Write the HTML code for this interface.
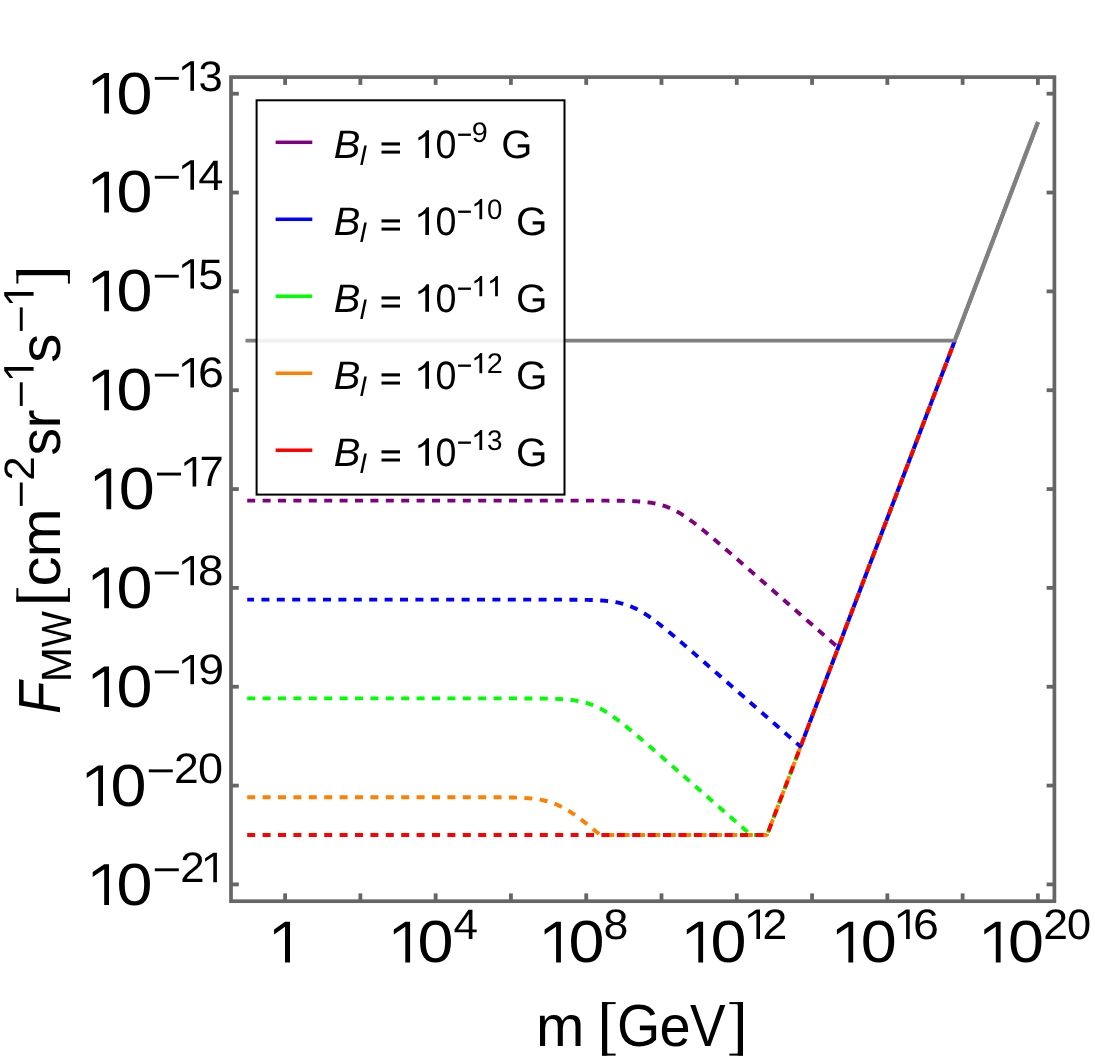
<!DOCTYPE html>
<html><head><meta charset="utf-8"><title>F_MW vs m</title>
<style>
html,body{margin:0;padding:0;background:#fff;}
svg{display:block;font-family:"Liberation Sans",sans-serif;-webkit-font-smoothing:antialiased;text-rendering:geometricPrecision;will-change:transform;}
</style></head>
<body>
<svg width="1095" height="1063" viewBox="0 0 1095 1063">
<rect x="0" y="0" width="1095" height="1063" fill="#ffffff"/>
<path d="M247.20,500.60 L248.20,500.60 L249.20,500.60 L250.20,500.60 L251.20,500.60 L252.20,500.60 L253.20,500.60 L254.20,500.60 L255.20,500.60 L256.20,500.60 L257.20,500.60 L258.20,500.60 L259.20,500.60 L260.20,500.60 L261.20,500.60 L262.20,500.60 L263.20,500.60 L264.20,500.60 L265.20,500.60 L266.20,500.60 L267.20,500.60 L268.20,500.60 L269.20,500.60 L270.20,500.60 L271.20,500.60 L272.20,500.60 L273.20,500.60 L274.20,500.60 L275.20,500.60 L276.20,500.60 L277.20,500.60 L278.20,500.60 L279.20,500.60 L280.20,500.60 L281.20,500.60 L282.20,500.60 L283.20,500.60 L284.20,500.60 L285.20,500.60 L286.20,500.60 L287.20,500.60 L288.20,500.60 L289.20,500.60 L290.20,500.60 L291.20,500.60 L292.20,500.60 L293.20,500.60 L294.20,500.60 L295.20,500.60 L296.20,500.60 L297.20,500.60 L298.20,500.60 L299.20,500.60 L300.20,500.60 L301.20,500.60 L302.20,500.60 L303.20,500.60 L304.20,500.60 L305.20,500.60 L306.20,500.60 L307.20,500.60 L308.20,500.60 L309.20,500.60 L310.20,500.60 L311.20,500.60 L312.20,500.60 L313.20,500.60 L314.20,500.60 L315.20,500.60 L316.20,500.60 L317.20,500.60 L318.20,500.60 L319.20,500.60 L320.20,500.60 L321.20,500.60 L322.20,500.60 L323.20,500.60 L324.20,500.60 L325.20,500.60 L326.20,500.60 L327.20,500.60 L328.20,500.60 L329.20,500.60 L330.20,500.60 L331.20,500.60 L332.20,500.60 L333.20,500.60 L334.20,500.60 L335.20,500.60 L336.20,500.60 L337.20,500.60 L338.20,500.60 L339.20,500.60 L340.20,500.60 L341.20,500.60 L342.20,500.60 L343.20,500.60 L344.20,500.60 L345.20,500.60 L346.20,500.60 L347.20,500.60 L348.20,500.60 L349.20,500.60 L350.20,500.60 L351.20,500.60 L352.20,500.60 L353.20,500.60 L354.20,500.60 L355.20,500.60 L356.20,500.60 L357.20,500.60 L358.20,500.60 L359.20,500.60 L360.20,500.60 L361.20,500.60 L362.20,500.60 L363.20,500.60 L364.20,500.60 L365.20,500.60 L366.20,500.60 L367.20,500.60 L368.20,500.60 L369.20,500.60 L370.20,500.60 L371.20,500.60 L372.20,500.60 L373.20,500.60 L374.20,500.60 L375.20,500.60 L376.20,500.60 L377.20,500.60 L378.20,500.60 L379.20,500.60 L380.20,500.60 L381.20,500.60 L382.20,500.60 L383.20,500.60 L384.20,500.60 L385.20,500.60 L386.20,500.60 L387.20,500.60 L388.20,500.60 L389.20,500.60 L390.20,500.60 L391.20,500.60 L392.20,500.60 L393.20,500.60 L394.20,500.60 L395.20,500.60 L396.20,500.60 L397.20,500.60 L398.20,500.60 L399.20,500.60 L400.20,500.60 L401.20,500.60 L402.20,500.60 L403.20,500.60 L404.20,500.60 L405.20,500.60 L406.20,500.60 L407.20,500.60 L408.20,500.60 L409.20,500.60 L410.20,500.60 L411.20,500.60 L412.20,500.60 L413.20,500.60 L414.20,500.60 L415.20,500.60 L416.20,500.60 L417.20,500.60 L418.20,500.60 L419.20,500.60 L420.20,500.60 L421.20,500.60 L422.20,500.60 L423.20,500.60 L424.20,500.60 L425.20,500.60 L426.20,500.60 L427.20,500.60 L428.20,500.60 L429.20,500.60 L430.20,500.60 L431.20,500.60 L432.20,500.60 L433.20,500.60 L434.20,500.60 L435.20,500.60 L436.20,500.60 L437.20,500.60 L438.20,500.60 L439.20,500.60 L440.20,500.60 L441.20,500.60 L442.20,500.60 L443.20,500.60 L444.20,500.60 L445.20,500.60 L446.20,500.60 L447.20,500.60 L448.20,500.60 L449.20,500.60 L450.20,500.60 L451.20,500.60 L452.20,500.60 L453.20,500.60 L454.20,500.60 L455.20,500.60 L456.20,500.60 L457.20,500.60 L458.20,500.60 L459.20,500.60 L460.20,500.60 L461.20,500.60 L462.20,500.60 L463.20,500.60 L464.20,500.60 L465.20,500.60 L466.20,500.60 L467.20,500.60 L468.20,500.60 L469.20,500.60 L470.20,500.60 L471.20,500.60 L472.20,500.60 L473.20,500.60 L474.20,500.60 L475.20,500.60 L476.20,500.60 L477.20,500.60 L478.20,500.60 L479.20,500.60 L480.20,500.60 L481.20,500.60 L482.20,500.60 L483.20,500.60 L484.20,500.60 L485.20,500.60 L486.20,500.60 L487.20,500.60 L488.20,500.60 L489.20,500.60 L490.20,500.60 L491.20,500.60 L492.20,500.60 L493.20,500.60 L494.20,500.60 L495.20,500.60 L496.20,500.60 L497.20,500.60 L498.20,500.60 L499.20,500.60 L500.20,500.60 L501.20,500.60 L502.20,500.60 L503.20,500.60 L504.20,500.60 L505.20,500.60 L506.20,500.60 L507.20,500.60 L508.20,500.60 L509.20,500.60 L510.20,500.60 L511.20,500.60 L512.20,500.60 L513.20,500.60 L514.20,500.60 L515.20,500.60 L516.20,500.60 L517.20,500.60 L518.20,500.60 L519.20,500.60 L520.20,500.60 L521.20,500.60 L522.20,500.60 L523.20,500.60 L524.20,500.60 L525.20,500.60 L526.20,500.60 L527.20,500.60 L528.20,500.60 L529.20,500.60 L530.20,500.60 L531.20,500.60 L532.20,500.60 L533.20,500.60 L534.20,500.60 L535.20,500.60 L536.20,500.60 L537.20,500.60 L538.20,500.60 L539.20,500.60 L540.20,500.60 L541.20,500.60 L542.20,500.60 L543.20,500.60 L544.20,500.60 L545.20,500.60 L546.20,500.60 L547.20,500.60 L548.20,500.60 L549.20,500.60 L550.20,500.60 L551.20,500.60 L552.20,500.60 L553.20,500.60 L554.20,500.60 L555.20,500.60 L556.20,500.60 L557.20,500.60 L558.20,500.60 L559.20,500.60 L560.20,500.60 L561.20,500.60 L562.20,500.60 L563.20,500.60 L564.20,500.60 L565.20,500.60 L566.20,500.60 L567.20,500.60 L568.20,500.60 L569.20,500.60 L570.20,500.60 L571.20,500.60 L572.20,500.60 L573.20,500.60 L574.20,500.61 L575.20,500.61 L576.20,500.61 L577.20,500.61 L578.20,500.61 L579.20,500.61 L580.20,500.61 L581.20,500.61 L582.20,500.61 L583.20,500.61 L584.20,500.61 L585.20,500.61 L586.20,500.61 L587.20,500.61 L588.20,500.62 L589.20,500.62 L590.20,500.62 L591.20,500.62 L592.20,500.62 L593.20,500.62 L594.20,500.63 L595.20,500.63 L596.20,500.63 L597.20,500.63 L598.20,500.64 L599.20,500.64 L600.20,500.64 L601.20,500.65 L602.20,500.65 L603.20,500.65 L604.20,500.66 L605.20,500.66 L606.20,500.67 L607.20,500.67 L608.20,500.68 L609.20,500.69 L610.20,500.69 L611.20,500.70 L612.20,500.71 L613.20,500.72 L614.20,500.73 L615.20,500.74 L616.20,500.75 L617.20,500.76 L618.20,500.77 L619.20,500.79 L620.20,500.80 L621.20,500.82 L622.20,500.84 L623.20,500.86 L624.20,500.88 L625.20,500.90 L626.20,500.93 L627.20,500.95 L628.20,500.98 L629.20,501.01 L630.20,501.04 L631.20,501.08 L632.20,501.12 L633.20,501.16 L634.20,501.21 L635.20,501.26 L636.20,501.31 L637.20,501.36 L638.20,501.43 L639.20,501.49 L640.20,501.56 L641.20,501.64 L642.20,501.72 L643.20,501.81 L644.20,501.90 L645.20,502.00 L646.20,502.11 L647.20,502.23 L648.20,502.35 L649.20,502.48 L650.20,502.63 L651.20,502.78 L652.20,502.94 L653.20,503.11 L654.20,503.30 L655.20,503.50 L656.20,503.70 L657.20,503.93 L658.20,504.16 L659.20,504.41 L660.20,504.67 L661.20,504.95 L662.20,505.25 L663.20,505.55 L664.20,505.88 L665.20,506.22 L666.20,506.58 L667.20,506.96 L668.20,507.35 L669.20,507.76 L670.20,508.19 L671.20,508.63 L672.20,509.09 L673.20,509.57 L674.20,510.07 L675.20,510.58 L676.20,511.11 L677.20,511.66 L678.20,512.22 L679.20,512.80 L680.20,513.39 L681.20,514.00 L682.20,514.63 L683.20,515.26 L684.20,515.91 L685.20,516.58 L686.20,517.26 L687.20,517.94 L688.20,518.64 L689.20,519.35 L690.20,520.08 L691.20,520.81 L692.20,521.55 L693.20,522.30 L694.20,523.05 L695.20,523.82 L696.20,524.59 L697.20,525.37 L698.20,526.16 L699.20,526.95 L700.20,527.75 L701.20,528.55 L702.20,529.36 L703.20,530.17 L704.20,530.99 L705.20,531.81 L706.20,532.64 L707.20,533.47 L708.20,534.30 L709.20,535.14 L710.20,535.98 L711.20,536.82 L712.20,537.66 L713.20,538.51 L714.20,539.36 L715.20,540.21 L716.20,541.06 L717.20,541.91 L718.20,542.77 L719.20,543.63 L720.20,544.48 L721.20,545.34 L722.20,546.20 L723.20,547.07 L724.20,547.93 L725.20,548.79 L726.20,549.66 L727.20,550.52 L728.20,551.39 L729.20,552.26 L730.20,553.12 L731.20,553.99 L732.20,554.86 L733.20,555.73 L734.20,556.60 L735.20,557.47 L736.20,558.34 L737.20,559.21 L738.20,560.08 L739.20,560.95 L740.20,561.83 L741.20,562.70 L742.20,563.57 L743.20,564.44 L744.20,565.32 L745.20,566.19 L746.20,567.06 L747.20,567.94 L748.20,568.81 L749.20,569.68 L750.20,570.56 L751.20,571.43 L752.20,572.30 L753.20,573.18 L754.20,574.05 L755.20,574.93 L756.20,575.80 L757.20,576.68 L758.20,577.55 L759.20,578.42 L760.20,579.30 L761.20,580.17 L762.20,581.05 L763.20,581.92 L764.20,582.80 L765.20,583.67 L766.20,584.55 L767.20,585.42 L768.20,586.30 L769.20,587.17 L770.20,588.05 L771.20,588.92 L772.20,589.80 L773.20,590.67 L774.20,591.55 L775.20,592.42 L776.20,593.30 L777.20,594.17 L778.20,595.05 L779.20,595.92 L780.20,596.80 L781.20,597.67 L782.20,598.55 L783.20,599.42 L784.20,600.30 L785.20,601.17 L786.20,602.05 L787.20,602.92 L788.20,603.80 L789.20,604.68 L790.20,605.55 L791.20,606.43 L792.20,607.30 L793.20,608.18 L794.20,609.05 L795.20,609.93 L796.20,610.80 L797.20,611.68 L798.20,612.55 L799.20,613.43 L800.20,614.30 L801.20,615.18 L802.20,616.05 L803.20,616.93 L804.20,617.80 L805.20,618.68 L806.20,619.55 L807.20,620.43 L808.20,621.31 L809.20,622.18 L810.20,623.06 L811.20,623.93 L812.20,624.81 L813.20,625.68 L814.20,626.56 L815.20,627.43 L816.20,628.31 L817.20,629.18 L818.20,630.06 L819.20,630.93 L820.20,631.81 L821.20,632.68 L822.20,633.56 L823.20,634.43 L824.20,635.31 L825.20,636.19 L826.20,637.06 L827.20,637.94 L828.20,638.81 L829.20,639.69 L830.20,640.56 L831.20,641.44 L832.20,642.31 L833.20,643.19 L834.20,644.06 L835.20,644.94 L836.20,645.81 L837.20,646.69 L838.20,647.56 L839.20,644.97 L840.20,642.33 L841.20,639.70 L842.20,637.07 L843.20,634.44 L844.20,631.81 L845.20,629.17 L846.20,626.54 L847.20,623.91 L848.20,621.28 L849.20,618.65 L850.20,616.01 L851.20,613.38 L852.20,610.75 L853.20,608.12 L854.20,605.48 L855.20,602.85 L856.20,600.22 L857.20,597.59 L858.20,594.96 L859.20,592.32 L860.20,589.69 L861.20,587.06 L862.20,584.43 L863.20,581.80 L864.20,579.16 L865.20,576.53 L866.20,573.90 L867.20,571.27 L868.20,568.64 L869.20,566.00 L870.20,563.37 L871.20,560.74 L872.20,558.11 L873.20,555.48 L874.20,552.84 L875.20,550.21 L876.20,547.58 L877.20,544.95 L878.20,542.32 L879.20,539.68 L880.20,537.05 L881.20,534.42 L882.20,531.79 L883.20,529.16 L884.20,526.52 L885.20,523.89 L886.20,521.26 L887.20,518.63 L888.20,515.99 L889.20,513.36 L890.20,510.73 L891.20,508.10 L892.20,505.47 L893.20,502.83 L894.20,500.20 L895.20,497.57 L896.20,494.94 L897.20,492.31 L898.20,489.67 L899.20,487.04 L900.20,484.41 L901.20,481.78 L902.20,479.15 L903.20,476.51 L904.20,473.88 L905.20,471.25 L906.20,468.62 L907.20,465.99 L908.20,463.35 L909.20,460.72 L910.20,458.09 L911.20,455.46 L912.20,452.83 L913.20,450.19 L914.20,447.56 L915.20,444.93 L916.20,442.30 L917.20,439.67 L918.20,437.03 L919.20,434.40 L920.20,431.77 L921.20,429.14 L922.20,426.51 L923.20,423.87 L924.20,421.24 L925.20,418.61 L926.20,415.98 L927.20,413.34 L928.20,410.71 L929.20,408.08 L930.20,405.45 L931.20,402.82 L932.20,400.18 L933.20,397.55 L934.20,394.92 L935.20,392.29 L936.20,389.66 L937.20,387.02 L938.20,384.39 L939.20,381.76 L940.20,379.13 L941.20,376.50 L942.20,373.86 L943.20,371.23 L944.20,368.60 L945.20,365.97 L946.20,363.34 L947.20,360.70 L948.20,358.07 L949.20,355.44 L950.20,352.81 L951.20,350.18 L952.20,347.54 L953.20,344.91 L954.20,342.28 L954.80,340.70" fill="none" stroke="#800080" stroke-width="3.9" stroke-dasharray="8 7.4" stroke-dashoffset="0" stroke-linejoin="round"/>
<path d="M247.20,698.40 L248.20,698.40 L249.20,698.40 L250.20,698.40 L251.20,698.40 L252.20,698.40 L253.20,698.40 L254.20,698.40 L255.20,698.40 L256.20,698.40 L257.20,698.40 L258.20,698.40 L259.20,698.40 L260.20,698.40 L261.20,698.40 L262.20,698.40 L263.20,698.40 L264.20,698.40 L265.20,698.40 L266.20,698.40 L267.20,698.40 L268.20,698.40 L269.20,698.40 L270.20,698.40 L271.20,698.40 L272.20,698.40 L273.20,698.40 L274.20,698.40 L275.20,698.40 L276.20,698.40 L277.20,698.40 L278.20,698.40 L279.20,698.40 L280.20,698.40 L281.20,698.40 L282.20,698.40 L283.20,698.40 L284.20,698.40 L285.20,698.40 L286.20,698.40 L287.20,698.40 L288.20,698.40 L289.20,698.40 L290.20,698.40 L291.20,698.40 L292.20,698.40 L293.20,698.40 L294.20,698.40 L295.20,698.40 L296.20,698.40 L297.20,698.40 L298.20,698.40 L299.20,698.40 L300.20,698.40 L301.20,698.40 L302.20,698.40 L303.20,698.40 L304.20,698.40 L305.20,698.40 L306.20,698.40 L307.20,698.40 L308.20,698.40 L309.20,698.40 L310.20,698.40 L311.20,698.40 L312.20,698.40 L313.20,698.40 L314.20,698.40 L315.20,698.40 L316.20,698.40 L317.20,698.40 L318.20,698.40 L319.20,698.40 L320.20,698.40 L321.20,698.40 L322.20,698.40 L323.20,698.40 L324.20,698.40 L325.20,698.40 L326.20,698.40 L327.20,698.40 L328.20,698.40 L329.20,698.40 L330.20,698.40 L331.20,698.40 L332.20,698.40 L333.20,698.40 L334.20,698.40 L335.20,698.40 L336.20,698.40 L337.20,698.40 L338.20,698.40 L339.20,698.40 L340.20,698.40 L341.20,698.40 L342.20,698.40 L343.20,698.40 L344.20,698.40 L345.20,698.40 L346.20,698.40 L347.20,698.40 L348.20,698.40 L349.20,698.40 L350.20,698.40 L351.20,698.40 L352.20,698.40 L353.20,698.40 L354.20,698.40 L355.20,698.40 L356.20,698.40 L357.20,698.40 L358.20,698.40 L359.20,698.40 L360.20,698.40 L361.20,698.40 L362.20,698.40 L363.20,698.40 L364.20,698.40 L365.20,698.40 L366.20,698.40 L367.20,698.40 L368.20,698.40 L369.20,698.40 L370.20,698.40 L371.20,698.40 L372.20,698.40 L373.20,698.40 L374.20,698.40 L375.20,698.40 L376.20,698.40 L377.20,698.40 L378.20,698.40 L379.20,698.40 L380.20,698.40 L381.20,698.40 L382.20,698.40 L383.20,698.40 L384.20,698.40 L385.20,698.40 L386.20,698.40 L387.20,698.40 L388.20,698.40 L389.20,698.40 L390.20,698.40 L391.20,698.40 L392.20,698.40 L393.20,698.40 L394.20,698.40 L395.20,698.40 L396.20,698.40 L397.20,698.40 L398.20,698.40 L399.20,698.40 L400.20,698.40 L401.20,698.40 L402.20,698.40 L403.20,698.40 L404.20,698.40 L405.20,698.40 L406.20,698.40 L407.20,698.40 L408.20,698.40 L409.20,698.40 L410.20,698.40 L411.20,698.40 L412.20,698.40 L413.20,698.40 L414.20,698.40 L415.20,698.40 L416.20,698.40 L417.20,698.40 L418.20,698.40 L419.20,698.40 L420.20,698.40 L421.20,698.40 L422.20,698.40 L423.20,698.40 L424.20,698.40 L425.20,698.40 L426.20,698.40 L427.20,698.40 L428.20,698.40 L429.20,698.40 L430.20,698.40 L431.20,698.40 L432.20,698.40 L433.20,698.40 L434.20,698.40 L435.20,698.40 L436.20,698.40 L437.20,698.40 L438.20,698.40 L439.20,698.40 L440.20,698.40 L441.20,698.40 L442.20,698.40 L443.20,698.40 L444.20,698.40 L445.20,698.40 L446.20,698.40 L447.20,698.40 L448.20,698.40 L449.20,698.40 L450.20,698.40 L451.20,698.40 L452.20,698.40 L453.20,698.40 L454.20,698.40 L455.20,698.40 L456.20,698.40 L457.20,698.40 L458.20,698.40 L459.20,698.40 L460.20,698.40 L461.20,698.40 L462.20,698.40 L463.20,698.40 L464.20,698.40 L465.20,698.40 L466.20,698.40 L467.20,698.40 L468.20,698.40 L469.20,698.40 L470.20,698.40 L471.20,698.40 L472.20,698.40 L473.20,698.40 L474.20,698.40 L475.20,698.40 L476.20,698.40 L477.20,698.40 L478.20,698.40 L479.20,698.40 L480.20,698.40 L481.20,698.40 L482.20,698.40 L483.20,698.40 L484.20,698.40 L485.20,698.40 L486.20,698.40 L487.20,698.40 L488.20,698.40 L489.20,698.40 L490.20,698.40 L491.20,698.40 L492.20,698.40 L493.20,698.40 L494.20,698.40 L495.20,698.40 L496.20,698.40 L497.20,698.40 L498.20,698.40 L499.20,698.41 L500.20,698.41 L501.20,698.41 L502.20,698.41 L503.20,698.41 L504.20,698.41 L505.20,698.41 L506.20,698.41 L507.20,698.41 L508.20,698.41 L509.20,698.41 L510.20,698.41 L511.20,698.41 L512.20,698.42 L513.20,698.42 L514.20,698.42 L515.20,698.42 L516.20,698.42 L517.20,698.42 L518.20,698.42 L519.20,698.43 L520.20,698.43 L521.20,698.43 L522.20,698.43 L523.20,698.44 L524.20,698.44 L525.20,698.44 L526.20,698.45 L527.20,698.45 L528.20,698.45 L529.20,698.46 L530.20,698.46 L531.20,698.47 L532.20,698.47 L533.20,698.48 L534.20,698.49 L535.20,698.49 L536.20,698.50 L537.20,698.51 L538.20,698.52 L539.20,698.53 L540.20,698.54 L541.20,698.55 L542.20,698.56 L543.20,698.58 L544.20,698.59 L545.20,698.61 L546.20,698.62 L547.20,698.64 L548.20,698.66 L549.20,698.68 L550.20,698.71 L551.20,698.73 L552.20,698.76 L553.20,698.79 L554.20,698.82 L555.20,698.86 L556.20,698.89 L557.20,698.93 L558.20,698.97 L559.20,699.02 L560.20,699.07 L561.20,699.12 L562.20,699.18 L563.20,699.24 L564.20,699.31 L565.20,699.38 L566.20,699.46 L567.20,699.54 L568.20,699.63 L569.20,699.73 L570.20,699.83 L571.20,699.94 L572.20,700.06 L573.20,700.19 L574.20,700.33 L575.20,700.47 L576.20,700.63 L577.20,700.79 L578.20,700.97 L579.20,701.16 L580.20,701.36 L581.20,701.57 L582.20,701.80 L583.20,702.03 L584.20,702.29 L585.20,702.56 L586.20,702.84 L587.20,703.14 L588.20,703.45 L589.20,703.78 L590.20,704.13 L591.20,704.49 L592.20,704.87 L593.20,705.27 L594.20,705.68 L595.20,706.12 L596.20,706.57 L597.20,707.03 L598.20,707.52 L599.20,708.02 L600.20,708.54 L601.20,709.07 L602.20,709.63 L603.20,710.19 L604.20,710.78 L605.20,711.37 L606.20,711.99 L607.20,712.62 L608.20,713.26 L609.20,713.91 L610.20,714.58 L611.20,715.26 L612.20,715.95 L613.20,716.66 L614.20,717.37 L615.20,718.09 L616.20,718.83 L617.20,719.57 L618.20,720.32 L619.20,721.08 L620.20,721.85 L621.20,722.62 L622.20,723.41 L623.20,724.19 L624.20,724.99 L625.20,725.79 L626.20,726.59 L627.20,727.40 L628.20,728.22 L629.20,729.04 L630.20,729.86 L631.20,730.69 L632.20,731.52 L633.20,732.35 L634.20,733.19 L635.20,734.03 L636.20,734.87 L637.20,735.72 L638.20,736.56 L639.20,737.41 L640.20,738.26 L641.20,739.12 L642.20,739.97 L643.20,740.83 L644.20,741.68 L645.20,742.54 L646.20,743.40 L647.20,744.26 L648.20,745.13 L649.20,745.99 L650.20,746.85 L651.20,747.72 L652.20,748.58 L653.20,749.45 L654.20,750.32 L655.20,751.19 L656.20,752.05 L657.20,752.92 L658.20,753.79 L659.20,754.66 L660.20,755.53 L661.20,756.40 L662.20,757.27 L663.20,758.14 L664.20,759.02 L665.20,759.89 L666.20,760.76 L667.20,761.63 L668.20,762.51 L669.20,763.38 L670.20,764.25 L671.20,765.12 L672.20,766.00 L673.20,766.87 L674.20,767.74 L675.20,768.62 L676.20,769.49 L677.20,770.37 L678.20,771.24 L679.20,772.11 L680.20,772.99 L681.20,773.86 L682.20,774.74 L683.20,775.61 L684.20,776.49 L685.20,777.36 L686.20,778.24 L687.20,779.11 L688.20,779.99 L689.20,780.86 L690.20,781.74 L691.20,782.61 L692.20,783.48 L693.20,784.36 L694.20,785.23 L695.20,786.11 L696.20,786.98 L697.20,787.86 L698.20,788.73 L699.20,789.61 L700.20,790.49 L701.20,791.36 L702.20,792.24 L703.20,793.11 L704.20,793.99 L705.20,794.86 L706.20,795.74 L707.20,796.61 L708.20,797.49 L709.20,798.36 L710.20,799.24 L711.20,800.11 L712.20,800.99 L713.20,801.86 L714.20,802.74 L715.20,803.61 L716.20,804.49 L717.20,805.36 L718.20,806.24 L719.20,807.11 L720.20,807.99 L721.20,808.86 L722.20,809.74 L723.20,810.62 L724.20,811.49 L725.20,812.37 L726.20,813.24 L727.20,814.12 L728.20,814.99 L729.20,815.87 L730.20,816.74 L731.20,817.62 L732.20,818.49 L733.20,819.37 L734.20,820.24 L735.20,821.12 L736.20,821.99 L737.20,822.87 L738.20,823.74 L739.20,824.62 L740.20,825.50 L741.20,826.37 L742.20,827.25 L743.20,828.12 L744.20,829.00 L745.20,829.87 L746.20,830.75 L747.20,831.62 L748.20,832.50 L749.20,833.37 L750.20,834.25 L751.20,835.00 L752.20,835.00 L753.20,835.00 L754.20,835.00 L755.20,835.00 L756.20,835.00 L757.20,835.00 L758.20,835.00 L759.20,835.00 L760.20,835.00 L761.20,835.00 L762.20,835.00 L763.20,835.00 L764.20,835.00 L765.20,835.00 L766.20,835.00 L767.20,834.47 L768.20,831.84 L769.20,829.21 L770.20,826.58 L771.20,823.95 L772.20,821.31 L773.20,818.68 L774.20,816.05 L775.20,813.42 L776.20,810.79 L777.20,808.15 L778.20,805.52 L779.20,802.89 L780.20,800.26 L781.20,797.62 L782.20,794.99 L783.20,792.36 L784.20,789.73 L785.20,787.10 L786.20,784.46 L787.20,781.83 L788.20,779.20 L789.20,776.57 L790.20,773.94 L791.20,771.30 L792.20,768.67 L793.20,766.04 L794.20,763.41 L795.20,760.78 L796.20,758.14 L797.20,755.51 L798.20,752.88 L799.20,750.25 L800.20,747.62 L801.20,744.98 L802.20,742.35 L803.20,739.72 L804.20,737.09 L805.20,734.46 L806.20,731.82 L807.20,729.19 L808.20,726.56 L809.20,723.93 L810.20,721.30 L811.20,718.66 L812.20,716.03 L813.20,713.40 L814.20,710.77 L815.20,708.13 L816.20,705.50 L817.20,702.87 L818.20,700.24 L819.20,697.61 L820.20,694.97 L821.20,692.34 L822.20,689.71 L823.20,687.08 L824.20,684.45 L825.20,681.81 L826.20,679.18 L827.20,676.55 L828.20,673.92 L829.20,671.29 L830.20,668.65 L831.20,666.02 L832.20,663.39 L833.20,660.76 L834.20,658.13 L835.20,655.49 L836.20,652.86 L837.20,650.23 L838.20,647.60 L839.20,644.97 L840.20,642.33 L841.20,639.70 L842.20,637.07 L843.20,634.44 L844.20,631.81 L845.20,629.17 L846.20,626.54 L847.20,623.91 L848.20,621.28 L849.20,618.65 L850.20,616.01 L851.20,613.38 L852.20,610.75 L853.20,608.12 L854.20,605.48 L855.20,602.85 L856.20,600.22 L857.20,597.59 L858.20,594.96 L859.20,592.32 L860.20,589.69 L861.20,587.06 L862.20,584.43 L863.20,581.80 L864.20,579.16 L865.20,576.53 L866.20,573.90 L867.20,571.27 L868.20,568.64 L869.20,566.00 L870.20,563.37 L871.20,560.74 L872.20,558.11 L873.20,555.48 L874.20,552.84 L875.20,550.21 L876.20,547.58 L877.20,544.95 L878.20,542.32 L879.20,539.68 L880.20,537.05 L881.20,534.42 L882.20,531.79 L883.20,529.16 L884.20,526.52 L885.20,523.89 L886.20,521.26 L887.20,518.63 L888.20,515.99 L889.20,513.36 L890.20,510.73 L891.20,508.10 L892.20,505.47 L893.20,502.83 L894.20,500.20 L895.20,497.57 L896.20,494.94 L897.20,492.31 L898.20,489.67 L899.20,487.04 L900.20,484.41 L901.20,481.78 L902.20,479.15 L903.20,476.51 L904.20,473.88 L905.20,471.25 L906.20,468.62 L907.20,465.99 L908.20,463.35 L909.20,460.72 L910.20,458.09 L911.20,455.46 L912.20,452.83 L913.20,450.19 L914.20,447.56 L915.20,444.93 L916.20,442.30 L917.20,439.67 L918.20,437.03 L919.20,434.40 L920.20,431.77 L921.20,429.14 L922.20,426.51 L923.20,423.87 L924.20,421.24 L925.20,418.61 L926.20,415.98 L927.20,413.34 L928.20,410.71 L929.20,408.08 L930.20,405.45 L931.20,402.82 L932.20,400.18 L933.20,397.55 L934.20,394.92 L935.20,392.29 L936.20,389.66 L937.20,387.02 L938.20,384.39 L939.20,381.76 L940.20,379.13 L941.20,376.50 L942.20,373.86 L943.20,371.23 L944.20,368.60 L945.20,365.97 L946.20,363.34 L947.20,360.70 L948.20,358.07 L949.20,355.44 L950.20,352.81 L951.20,350.18 L952.20,347.54 L953.20,344.91 L954.20,342.28 L954.80,340.70" fill="none" stroke="#00ff00" stroke-width="3.9" stroke-dasharray="8 7.4" stroke-dashoffset="0" stroke-linejoin="round"/>
<path d="M247.20,797.20 L248.20,797.20 L249.20,797.20 L250.20,797.20 L251.20,797.20 L252.20,797.20 L253.20,797.20 L254.20,797.20 L255.20,797.20 L256.20,797.20 L257.20,797.20 L258.20,797.20 L259.20,797.20 L260.20,797.20 L261.20,797.20 L262.20,797.20 L263.20,797.20 L264.20,797.20 L265.20,797.20 L266.20,797.20 L267.20,797.20 L268.20,797.20 L269.20,797.20 L270.20,797.20 L271.20,797.20 L272.20,797.20 L273.20,797.20 L274.20,797.20 L275.20,797.20 L276.20,797.20 L277.20,797.20 L278.20,797.20 L279.20,797.20 L280.20,797.20 L281.20,797.20 L282.20,797.20 L283.20,797.20 L284.20,797.20 L285.20,797.20 L286.20,797.20 L287.20,797.20 L288.20,797.20 L289.20,797.20 L290.20,797.20 L291.20,797.20 L292.20,797.20 L293.20,797.20 L294.20,797.20 L295.20,797.20 L296.20,797.20 L297.20,797.20 L298.20,797.20 L299.20,797.20 L300.20,797.20 L301.20,797.20 L302.20,797.20 L303.20,797.20 L304.20,797.20 L305.20,797.20 L306.20,797.20 L307.20,797.20 L308.20,797.20 L309.20,797.20 L310.20,797.20 L311.20,797.20 L312.20,797.20 L313.20,797.20 L314.20,797.20 L315.20,797.20 L316.20,797.20 L317.20,797.20 L318.20,797.20 L319.20,797.20 L320.20,797.20 L321.20,797.20 L322.20,797.20 L323.20,797.20 L324.20,797.20 L325.20,797.20 L326.20,797.20 L327.20,797.20 L328.20,797.20 L329.20,797.20 L330.20,797.20 L331.20,797.20 L332.20,797.20 L333.20,797.20 L334.20,797.20 L335.20,797.20 L336.20,797.20 L337.20,797.20 L338.20,797.20 L339.20,797.20 L340.20,797.20 L341.20,797.20 L342.20,797.20 L343.20,797.20 L344.20,797.20 L345.20,797.20 L346.20,797.20 L347.20,797.20 L348.20,797.20 L349.20,797.20 L350.20,797.20 L351.20,797.20 L352.20,797.20 L353.20,797.20 L354.20,797.20 L355.20,797.20 L356.20,797.20 L357.20,797.20 L358.20,797.20 L359.20,797.20 L360.20,797.20 L361.20,797.20 L362.20,797.20 L363.20,797.20 L364.20,797.20 L365.20,797.20 L366.20,797.20 L367.20,797.20 L368.20,797.20 L369.20,797.20 L370.20,797.20 L371.20,797.20 L372.20,797.20 L373.20,797.20 L374.20,797.20 L375.20,797.20 L376.20,797.20 L377.20,797.20 L378.20,797.20 L379.20,797.20 L380.20,797.20 L381.20,797.20 L382.20,797.20 L383.20,797.20 L384.20,797.20 L385.20,797.20 L386.20,797.20 L387.20,797.20 L388.20,797.20 L389.20,797.20 L390.20,797.20 L391.20,797.20 L392.20,797.20 L393.20,797.20 L394.20,797.20 L395.20,797.20 L396.20,797.20 L397.20,797.20 L398.20,797.20 L399.20,797.20 L400.20,797.20 L401.20,797.20 L402.20,797.20 L403.20,797.20 L404.20,797.20 L405.20,797.20 L406.20,797.20 L407.20,797.20 L408.20,797.20 L409.20,797.20 L410.20,797.20 L411.20,797.20 L412.20,797.20 L413.20,797.20 L414.20,797.20 L415.20,797.20 L416.20,797.20 L417.20,797.20 L418.20,797.20 L419.20,797.20 L420.20,797.20 L421.20,797.20 L422.20,797.20 L423.20,797.20 L424.20,797.20 L425.20,797.20 L426.20,797.20 L427.20,797.20 L428.20,797.20 L429.20,797.20 L430.20,797.20 L431.20,797.20 L432.20,797.20 L433.20,797.20 L434.20,797.20 L435.20,797.20 L436.20,797.20 L437.20,797.20 L438.20,797.20 L439.20,797.20 L440.20,797.20 L441.20,797.20 L442.20,797.20 L443.20,797.20 L444.20,797.20 L445.20,797.20 L446.20,797.20 L447.20,797.20 L448.20,797.20 L449.20,797.20 L450.20,797.20 L451.20,797.20 L452.20,797.20 L453.20,797.20 L454.20,797.20 L455.20,797.20 L456.20,797.20 L457.20,797.20 L458.20,797.20 L459.20,797.20 L460.20,797.20 L461.20,797.21 L462.20,797.21 L463.20,797.21 L464.20,797.21 L465.20,797.21 L466.20,797.21 L467.20,797.21 L468.20,797.21 L469.20,797.21 L470.20,797.21 L471.20,797.21 L472.20,797.21 L473.20,797.21 L474.20,797.21 L475.20,797.22 L476.20,797.22 L477.20,797.22 L478.20,797.22 L479.20,797.22 L480.20,797.22 L481.20,797.23 L482.20,797.23 L483.20,797.23 L484.20,797.23 L485.20,797.24 L486.20,797.24 L487.20,797.24 L488.20,797.24 L489.20,797.25 L490.20,797.25 L491.20,797.26 L492.20,797.26 L493.20,797.27 L494.20,797.27 L495.20,797.28 L496.20,797.28 L497.20,797.29 L498.20,797.30 L499.20,797.31 L500.20,797.32 L501.20,797.33 L502.20,797.34 L503.20,797.35 L504.20,797.36 L505.20,797.37 L506.20,797.39 L507.20,797.40 L508.20,797.42 L509.20,797.44 L510.20,797.45 L511.20,797.48 L512.20,797.50 L513.20,797.52 L514.20,797.55 L515.20,797.58 L516.20,797.61 L517.20,797.64 L518.20,797.68 L519.20,797.72 L520.20,797.76 L521.20,797.80 L522.20,797.85 L523.20,797.90 L524.20,797.96 L525.20,798.02 L526.20,798.08 L527.20,798.15 L528.20,798.23 L529.20,798.31 L530.20,798.40 L531.20,798.49 L532.20,798.59 L533.20,798.70 L534.20,798.81 L535.20,798.94 L536.20,799.07 L537.20,799.21 L538.20,799.36 L539.20,799.52 L540.20,799.70 L541.20,799.88 L542.20,800.08 L543.20,800.28 L544.20,800.50 L545.20,800.74 L546.20,800.98 L547.20,801.25 L548.20,801.52 L549.20,801.82 L550.20,802.12 L551.20,802.45 L552.20,802.79 L553.20,803.14 L554.20,803.52 L555.20,803.91 L556.20,804.32 L557.20,804.74 L558.20,805.18 L559.20,805.65 L560.20,806.12 L561.20,806.62 L562.20,807.13 L563.20,807.66 L564.20,808.20 L565.20,808.76 L566.20,809.34 L567.20,809.93 L568.20,810.54 L569.20,811.16 L570.20,811.80 L571.20,812.45 L572.20,813.11 L573.20,813.79 L574.20,814.47 L575.20,815.17 L576.20,815.88 L577.20,816.60 L578.20,817.33 L579.20,818.07 L580.20,818.82 L581.20,819.58 L582.20,820.34 L583.20,821.11 L584.20,821.89 L585.20,822.68 L586.20,823.47 L587.20,824.27 L588.20,825.07 L589.20,825.88 L590.20,826.69 L591.20,827.51 L592.20,828.33 L593.20,829.16 L594.20,829.99 L595.20,830.82 L596.20,831.65 L597.20,832.49 L598.20,833.33 L599.20,834.18 L600.20,835.00 L601.20,835.00 L602.20,835.00 L603.20,835.00 L604.20,835.00 L605.20,835.00 L606.20,835.00 L607.20,835.00 L608.20,835.00 L609.20,835.00 L610.20,835.00 L611.20,835.00 L612.20,835.00 L613.20,835.00 L614.20,835.00 L615.20,835.00 L616.20,835.00 L617.20,835.00 L618.20,835.00 L619.20,835.00 L620.20,835.00 L621.20,835.00 L622.20,835.00 L623.20,835.00 L624.20,835.00 L625.20,835.00 L626.20,835.00 L627.20,835.00 L628.20,835.00 L629.20,835.00 L630.20,835.00 L631.20,835.00 L632.20,835.00 L633.20,835.00 L634.20,835.00 L635.20,835.00 L636.20,835.00 L637.20,835.00 L638.20,835.00 L639.20,835.00 L640.20,835.00 L641.20,835.00 L642.20,835.00 L643.20,835.00 L644.20,835.00 L645.20,835.00 L646.20,835.00 L647.20,835.00 L648.20,835.00 L649.20,835.00 L650.20,835.00 L651.20,835.00 L652.20,835.00 L653.20,835.00 L654.20,835.00 L655.20,835.00 L656.20,835.00 L657.20,835.00 L658.20,835.00 L659.20,835.00 L660.20,835.00 L661.20,835.00 L662.20,835.00 L663.20,835.00 L664.20,835.00 L665.20,835.00 L666.20,835.00 L667.20,835.00 L668.20,835.00 L669.20,835.00 L670.20,835.00 L671.20,835.00 L672.20,835.00 L673.20,835.00 L674.20,835.00 L675.20,835.00 L676.20,835.00 L677.20,835.00 L678.20,835.00 L679.20,835.00 L680.20,835.00 L681.20,835.00 L682.20,835.00 L683.20,835.00 L684.20,835.00 L685.20,835.00 L686.20,835.00 L687.20,835.00 L688.20,835.00 L689.20,835.00 L690.20,835.00 L691.20,835.00 L692.20,835.00 L693.20,835.00 L694.20,835.00 L695.20,835.00 L696.20,835.00 L697.20,835.00 L698.20,835.00 L699.20,835.00 L700.20,835.00 L701.20,835.00 L702.20,835.00 L703.20,835.00 L704.20,835.00 L705.20,835.00 L706.20,835.00 L707.20,835.00 L708.20,835.00 L709.20,835.00 L710.20,835.00 L711.20,835.00 L712.20,835.00 L713.20,835.00 L714.20,835.00 L715.20,835.00 L716.20,835.00 L717.20,835.00 L718.20,835.00 L719.20,835.00 L720.20,835.00 L721.20,835.00 L722.20,835.00 L723.20,835.00 L724.20,835.00 L725.20,835.00 L726.20,835.00 L727.20,835.00 L728.20,835.00 L729.20,835.00 L730.20,835.00 L731.20,835.00 L732.20,835.00 L733.20,835.00 L734.20,835.00 L735.20,835.00 L736.20,835.00 L737.20,835.00 L738.20,835.00 L739.20,835.00 L740.20,835.00 L741.20,835.00 L742.20,835.00 L743.20,835.00 L744.20,835.00 L745.20,835.00 L746.20,835.00 L747.20,835.00 L748.20,835.00 L749.20,835.00 L750.20,835.00 L751.20,835.00 L752.20,835.00 L753.20,835.00 L754.20,835.00 L755.20,835.00 L756.20,835.00 L757.20,835.00 L758.20,835.00 L759.20,835.00 L760.20,835.00 L761.20,835.00 L762.20,835.00 L763.20,835.00 L764.20,835.00 L765.20,835.00 L766.20,835.00 L767.20,834.47 L768.20,831.84 L769.20,829.21 L770.20,826.58 L771.20,823.95 L772.20,821.31 L773.20,818.68 L774.20,816.05 L775.20,813.42 L776.20,810.79 L777.20,808.15 L778.20,805.52 L779.20,802.89 L780.20,800.26 L781.20,797.62 L782.20,794.99 L783.20,792.36 L784.20,789.73 L785.20,787.10 L786.20,784.46 L787.20,781.83 L788.20,779.20 L789.20,776.57 L790.20,773.94 L791.20,771.30 L792.20,768.67 L793.20,766.04 L794.20,763.41 L795.20,760.78 L796.20,758.14 L797.20,755.51 L798.20,752.88 L799.20,750.25 L800.20,747.62 L801.20,744.98 L802.20,742.35 L803.20,739.72 L804.20,737.09 L805.20,734.46 L806.20,731.82 L807.20,729.19 L808.20,726.56 L809.20,723.93 L810.20,721.30 L811.20,718.66 L812.20,716.03 L813.20,713.40 L814.20,710.77 L815.20,708.13 L816.20,705.50 L817.20,702.87 L818.20,700.24 L819.20,697.61 L820.20,694.97 L821.20,692.34 L822.20,689.71 L823.20,687.08 L824.20,684.45 L825.20,681.81 L826.20,679.18 L827.20,676.55 L828.20,673.92 L829.20,671.29 L830.20,668.65 L831.20,666.02 L832.20,663.39 L833.20,660.76 L834.20,658.13 L835.20,655.49 L836.20,652.86 L837.20,650.23 L838.20,647.60 L839.20,644.97 L840.20,642.33 L841.20,639.70 L842.20,637.07 L843.20,634.44 L844.20,631.81 L845.20,629.17 L846.20,626.54 L847.20,623.91 L848.20,621.28 L849.20,618.65 L850.20,616.01 L851.20,613.38 L852.20,610.75 L853.20,608.12 L854.20,605.48 L855.20,602.85 L856.20,600.22 L857.20,597.59 L858.20,594.96 L859.20,592.32 L860.20,589.69 L861.20,587.06 L862.20,584.43 L863.20,581.80 L864.20,579.16 L865.20,576.53 L866.20,573.90 L867.20,571.27 L868.20,568.64 L869.20,566.00 L870.20,563.37 L871.20,560.74 L872.20,558.11 L873.20,555.48 L874.20,552.84 L875.20,550.21 L876.20,547.58 L877.20,544.95 L878.20,542.32 L879.20,539.68 L880.20,537.05 L881.20,534.42 L882.20,531.79 L883.20,529.16 L884.20,526.52 L885.20,523.89 L886.20,521.26 L887.20,518.63 L888.20,515.99 L889.20,513.36 L890.20,510.73 L891.20,508.10 L892.20,505.47 L893.20,502.83 L894.20,500.20 L895.20,497.57 L896.20,494.94 L897.20,492.31 L898.20,489.67 L899.20,487.04 L900.20,484.41 L901.20,481.78 L902.20,479.15 L903.20,476.51 L904.20,473.88 L905.20,471.25 L906.20,468.62 L907.20,465.99 L908.20,463.35 L909.20,460.72 L910.20,458.09 L911.20,455.46 L912.20,452.83 L913.20,450.19 L914.20,447.56 L915.20,444.93 L916.20,442.30 L917.20,439.67 L918.20,437.03 L919.20,434.40 L920.20,431.77 L921.20,429.14 L922.20,426.51 L923.20,423.87 L924.20,421.24 L925.20,418.61 L926.20,415.98 L927.20,413.34 L928.20,410.71 L929.20,408.08 L930.20,405.45 L931.20,402.82 L932.20,400.18 L933.20,397.55 L934.20,394.92 L935.20,392.29 L936.20,389.66 L937.20,387.02 L938.20,384.39 L939.20,381.76 L940.20,379.13 L941.20,376.50 L942.20,373.86 L943.20,371.23 L944.20,368.60 L945.20,365.97 L946.20,363.34 L947.20,360.70 L948.20,358.07 L949.20,355.44 L950.20,352.81 L951.20,350.18 L952.20,347.54 L953.20,344.91 L954.20,342.28 L954.80,340.70" fill="none" stroke="#ff8000" stroke-width="3.9" stroke-dasharray="8 7.4" stroke-dashoffset="0" stroke-linejoin="round"/>
<path d="M247.20,599.60 L248.20,599.60 L249.20,599.60 L250.20,599.60 L251.20,599.60 L252.20,599.60 L253.20,599.60 L254.20,599.60 L255.20,599.60 L256.20,599.60 L257.20,599.60 L258.20,599.60 L259.20,599.60 L260.20,599.60 L261.20,599.60 L262.20,599.60 L263.20,599.60 L264.20,599.60 L265.20,599.60 L266.20,599.60 L267.20,599.60 L268.20,599.60 L269.20,599.60 L270.20,599.60 L271.20,599.60 L272.20,599.60 L273.20,599.60 L274.20,599.60 L275.20,599.60 L276.20,599.60 L277.20,599.60 L278.20,599.60 L279.20,599.60 L280.20,599.60 L281.20,599.60 L282.20,599.60 L283.20,599.60 L284.20,599.60 L285.20,599.60 L286.20,599.60 L287.20,599.60 L288.20,599.60 L289.20,599.60 L290.20,599.60 L291.20,599.60 L292.20,599.60 L293.20,599.60 L294.20,599.60 L295.20,599.60 L296.20,599.60 L297.20,599.60 L298.20,599.60 L299.20,599.60 L300.20,599.60 L301.20,599.60 L302.20,599.60 L303.20,599.60 L304.20,599.60 L305.20,599.60 L306.20,599.60 L307.20,599.60 L308.20,599.60 L309.20,599.60 L310.20,599.60 L311.20,599.60 L312.20,599.60 L313.20,599.60 L314.20,599.60 L315.20,599.60 L316.20,599.60 L317.20,599.60 L318.20,599.60 L319.20,599.60 L320.20,599.60 L321.20,599.60 L322.20,599.60 L323.20,599.60 L324.20,599.60 L325.20,599.60 L326.20,599.60 L327.20,599.60 L328.20,599.60 L329.20,599.60 L330.20,599.60 L331.20,599.60 L332.20,599.60 L333.20,599.60 L334.20,599.60 L335.20,599.60 L336.20,599.60 L337.20,599.60 L338.20,599.60 L339.20,599.60 L340.20,599.60 L341.20,599.60 L342.20,599.60 L343.20,599.60 L344.20,599.60 L345.20,599.60 L346.20,599.60 L347.20,599.60 L348.20,599.60 L349.20,599.60 L350.20,599.60 L351.20,599.60 L352.20,599.60 L353.20,599.60 L354.20,599.60 L355.20,599.60 L356.20,599.60 L357.20,599.60 L358.20,599.60 L359.20,599.60 L360.20,599.60 L361.20,599.60 L362.20,599.60 L363.20,599.60 L364.20,599.60 L365.20,599.60 L366.20,599.60 L367.20,599.60 L368.20,599.60 L369.20,599.60 L370.20,599.60 L371.20,599.60 L372.20,599.60 L373.20,599.60 L374.20,599.60 L375.20,599.60 L376.20,599.60 L377.20,599.60 L378.20,599.60 L379.20,599.60 L380.20,599.60 L381.20,599.60 L382.20,599.60 L383.20,599.60 L384.20,599.60 L385.20,599.60 L386.20,599.60 L387.20,599.60 L388.20,599.60 L389.20,599.60 L390.20,599.60 L391.20,599.60 L392.20,599.60 L393.20,599.60 L394.20,599.60 L395.20,599.60 L396.20,599.60 L397.20,599.60 L398.20,599.60 L399.20,599.60 L400.20,599.60 L401.20,599.60 L402.20,599.60 L403.20,599.60 L404.20,599.60 L405.20,599.60 L406.20,599.60 L407.20,599.60 L408.20,599.60 L409.20,599.60 L410.20,599.60 L411.20,599.60 L412.20,599.60 L413.20,599.60 L414.20,599.60 L415.20,599.60 L416.20,599.60 L417.20,599.60 L418.20,599.60 L419.20,599.60 L420.20,599.60 L421.20,599.60 L422.20,599.60 L423.20,599.60 L424.20,599.60 L425.20,599.60 L426.20,599.60 L427.20,599.60 L428.20,599.60 L429.20,599.60 L430.20,599.60 L431.20,599.60 L432.20,599.60 L433.20,599.60 L434.20,599.60 L435.20,599.60 L436.20,599.60 L437.20,599.60 L438.20,599.60 L439.20,599.60 L440.20,599.60 L441.20,599.60 L442.20,599.60 L443.20,599.60 L444.20,599.60 L445.20,599.60 L446.20,599.60 L447.20,599.60 L448.20,599.60 L449.20,599.60 L450.20,599.60 L451.20,599.60 L452.20,599.60 L453.20,599.60 L454.20,599.60 L455.20,599.60 L456.20,599.60 L457.20,599.60 L458.20,599.60 L459.20,599.60 L460.20,599.60 L461.20,599.60 L462.20,599.60 L463.20,599.60 L464.20,599.60 L465.20,599.60 L466.20,599.60 L467.20,599.60 L468.20,599.60 L469.20,599.60 L470.20,599.60 L471.20,599.60 L472.20,599.60 L473.20,599.60 L474.20,599.60 L475.20,599.60 L476.20,599.60 L477.20,599.60 L478.20,599.60 L479.20,599.60 L480.20,599.60 L481.20,599.60 L482.20,599.60 L483.20,599.60 L484.20,599.60 L485.20,599.60 L486.20,599.60 L487.20,599.60 L488.20,599.60 L489.20,599.60 L490.20,599.60 L491.20,599.60 L492.20,599.60 L493.20,599.60 L494.20,599.60 L495.20,599.60 L496.20,599.60 L497.20,599.60 L498.20,599.60 L499.20,599.60 L500.20,599.60 L501.20,599.60 L502.20,599.60 L503.20,599.60 L504.20,599.60 L505.20,599.60 L506.20,599.60 L507.20,599.60 L508.20,599.60 L509.20,599.60 L510.20,599.60 L511.20,599.60 L512.20,599.60 L513.20,599.60 L514.20,599.60 L515.20,599.60 L516.20,599.60 L517.20,599.60 L518.20,599.60 L519.20,599.60 L520.20,599.60 L521.20,599.60 L522.20,599.60 L523.20,599.60 L524.20,599.60 L525.20,599.60 L526.20,599.60 L527.20,599.60 L528.20,599.60 L529.20,599.60 L530.20,599.60 L531.20,599.60 L532.20,599.60 L533.20,599.60 L534.20,599.60 L535.20,599.60 L536.20,599.61 L537.20,599.61 L538.20,599.61 L539.20,599.61 L540.20,599.61 L541.20,599.61 L542.20,599.61 L543.20,599.61 L544.20,599.61 L545.20,599.61 L546.20,599.61 L547.20,599.61 L548.20,599.61 L549.20,599.61 L550.20,599.62 L551.20,599.62 L552.20,599.62 L553.20,599.62 L554.20,599.62 L555.20,599.62 L556.20,599.63 L557.20,599.63 L558.20,599.63 L559.20,599.63 L560.20,599.63 L561.20,599.64 L562.20,599.64 L563.20,599.64 L564.20,599.65 L565.20,599.65 L566.20,599.66 L567.20,599.66 L568.20,599.66 L569.20,599.67 L570.20,599.68 L571.20,599.68 L572.20,599.69 L573.20,599.70 L574.20,599.70 L575.20,599.71 L576.20,599.72 L577.20,599.73 L578.20,599.74 L579.20,599.76 L580.20,599.77 L581.20,599.78 L582.20,599.80 L583.20,599.81 L584.20,599.83 L585.20,599.85 L586.20,599.87 L587.20,599.89 L588.20,599.92 L589.20,599.94 L590.20,599.97 L591.20,600.00 L592.20,600.03 L593.20,600.07 L594.20,600.10 L595.20,600.14 L596.20,600.19 L597.20,600.24 L598.20,600.29 L599.20,600.34 L600.20,600.40 L601.20,600.46 L602.20,600.53 L603.20,600.61 L604.20,600.69 L605.20,600.77 L606.20,600.86 L607.20,600.96 L608.20,601.07 L609.20,601.18 L610.20,601.30 L611.20,601.43 L612.20,601.57 L613.20,601.72 L614.20,601.88 L615.20,602.04 L616.20,602.22 L617.20,602.42 L618.20,602.62 L619.20,602.84 L620.20,603.07 L621.20,603.31 L622.20,603.57 L623.20,603.84 L624.20,604.13 L625.20,604.43 L626.20,604.75 L627.20,605.08 L628.20,605.44 L629.20,605.80 L630.20,606.19 L631.20,606.59 L632.20,607.01 L633.20,607.45 L634.20,607.91 L635.20,608.38 L636.20,608.87 L637.20,609.37 L638.20,609.90 L639.20,610.44 L640.20,610.99 L641.20,611.57 L642.20,612.15 L643.20,612.76 L644.20,613.37 L645.20,614.01 L646.20,614.65 L647.20,615.31 L648.20,615.98 L649.20,616.67 L650.20,617.36 L651.20,618.07 L652.20,618.79 L653.20,619.51 L654.20,620.25 L655.20,620.99 L656.20,621.75 L657.20,622.51 L658.20,623.28 L659.20,624.06 L660.20,624.84 L661.20,625.63 L662.20,626.43 L663.20,627.23 L664.20,628.04 L665.20,628.85 L666.20,629.66 L667.20,630.48 L668.20,631.31 L669.20,632.14 L670.20,632.97 L671.20,633.80 L672.20,634.64 L673.20,635.48 L674.20,636.32 L675.20,637.17 L676.20,638.02 L677.20,638.87 L678.20,639.72 L679.20,640.57 L680.20,641.43 L681.20,642.28 L682.20,643.14 L683.20,644.00 L684.20,644.86 L685.20,645.72 L686.20,646.58 L687.20,647.45 L688.20,648.31 L689.20,649.18 L690.20,650.04 L691.20,650.91 L692.20,651.78 L693.20,652.65 L694.20,653.51 L695.20,654.38 L696.20,655.25 L697.20,656.12 L698.20,656.99 L699.20,657.86 L700.20,658.73 L701.20,659.61 L702.20,660.48 L703.20,661.35 L704.20,662.22 L705.20,663.09 L706.20,663.97 L707.20,664.84 L708.20,665.71 L709.20,666.59 L710.20,667.46 L711.20,668.33 L712.20,669.21 L713.20,670.08 L714.20,670.95 L715.20,671.83 L716.20,672.70 L717.20,673.58 L718.20,674.45 L719.20,675.33 L720.20,676.20 L721.20,677.07 L722.20,677.95 L723.20,678.82 L724.20,679.70 L725.20,680.57 L726.20,681.45 L727.20,682.32 L728.20,683.20 L729.20,684.07 L730.20,684.95 L731.20,685.82 L732.20,686.70 L733.20,687.57 L734.20,688.45 L735.20,689.32 L736.20,690.20 L737.20,691.07 L738.20,691.95 L739.20,692.82 L740.20,693.70 L741.20,694.57 L742.20,695.45 L743.20,696.32 L744.20,697.20 L745.20,698.07 L746.20,698.95 L747.20,699.82 L748.20,700.70 L749.20,701.57 L750.20,702.45 L751.20,703.33 L752.20,704.20 L753.20,705.08 L754.20,705.95 L755.20,706.83 L756.20,707.70 L757.20,708.58 L758.20,709.45 L759.20,710.33 L760.20,711.20 L761.20,712.08 L762.20,712.95 L763.20,713.83 L764.20,714.70 L765.20,715.58 L766.20,716.45 L767.20,717.33 L768.20,718.20 L769.20,719.08 L770.20,719.96 L771.20,720.83 L772.20,721.71 L773.20,722.58 L774.20,723.46 L775.20,724.33 L776.20,725.21 L777.20,726.08 L778.20,726.96 L779.20,727.83 L780.20,728.71 L781.20,729.58 L782.20,730.46 L783.20,731.33 L784.20,732.21 L785.20,733.08 L786.20,733.96 L787.20,734.84 L788.20,735.71 L789.20,736.59 L790.20,737.46 L791.20,738.34 L792.20,739.21 L793.20,740.09 L794.20,740.96 L795.20,741.84 L796.20,742.71 L797.20,743.59 L798.20,744.46 L799.20,745.34 L800.20,746.21 L801.20,744.98 L802.20,742.35 L803.20,739.72 L804.20,737.09 L805.20,734.46 L806.20,731.82 L807.20,729.19 L808.20,726.56 L809.20,723.93 L810.20,721.30 L811.20,718.66 L812.20,716.03 L813.20,713.40 L814.20,710.77 L815.20,708.13 L816.20,705.50 L817.20,702.87 L818.20,700.24 L819.20,697.61 L820.20,694.97 L821.20,692.34 L822.20,689.71 L823.20,687.08 L824.20,684.45 L825.20,681.81 L826.20,679.18 L827.20,676.55 L828.20,673.92 L829.20,671.29 L830.20,668.65 L831.20,666.02 L832.20,663.39 L833.20,660.76 L834.20,658.13 L835.20,655.49 L836.20,652.86 L837.20,650.23 L838.20,647.60 L839.20,644.97 L840.20,642.33 L841.20,639.70 L842.20,637.07 L843.20,634.44 L844.20,631.81 L845.20,629.17 L846.20,626.54 L847.20,623.91 L848.20,621.28 L849.20,618.65 L850.20,616.01 L851.20,613.38 L852.20,610.75 L853.20,608.12 L854.20,605.48 L855.20,602.85 L856.20,600.22 L857.20,597.59 L858.20,594.96 L859.20,592.32 L860.20,589.69 L861.20,587.06 L862.20,584.43 L863.20,581.80 L864.20,579.16 L865.20,576.53 L866.20,573.90 L867.20,571.27 L868.20,568.64 L869.20,566.00 L870.20,563.37 L871.20,560.74 L872.20,558.11 L873.20,555.48 L874.20,552.84 L875.20,550.21 L876.20,547.58 L877.20,544.95 L878.20,542.32 L879.20,539.68 L880.20,537.05 L881.20,534.42 L882.20,531.79 L883.20,529.16 L884.20,526.52 L885.20,523.89 L886.20,521.26 L887.20,518.63 L888.20,515.99 L889.20,513.36 L890.20,510.73 L891.20,508.10 L892.20,505.47 L893.20,502.83 L894.20,500.20 L895.20,497.57 L896.20,494.94 L897.20,492.31 L898.20,489.67 L899.20,487.04 L900.20,484.41 L901.20,481.78 L902.20,479.15 L903.20,476.51 L904.20,473.88 L905.20,471.25 L906.20,468.62 L907.20,465.99 L908.20,463.35 L909.20,460.72 L910.20,458.09 L911.20,455.46 L912.20,452.83 L913.20,450.19 L914.20,447.56 L915.20,444.93 L916.20,442.30 L917.20,439.67 L918.20,437.03 L919.20,434.40 L920.20,431.77 L921.20,429.14 L922.20,426.51 L923.20,423.87 L924.20,421.24 L925.20,418.61 L926.20,415.98 L927.20,413.34 L928.20,410.71 L929.20,408.08 L930.20,405.45 L931.20,402.82 L932.20,400.18 L933.20,397.55 L934.20,394.92 L935.20,392.29 L936.20,389.66 L937.20,387.02 L938.20,384.39 L939.20,381.76 L940.20,379.13 L941.20,376.50 L942.20,373.86 L943.20,371.23 L944.20,368.60 L945.20,365.97 L946.20,363.34 L947.20,360.70 L948.20,358.07 L949.20,355.44 L950.20,352.81 L951.20,350.18 L952.20,347.54 L953.20,344.91 L954.20,342.28 L954.80,340.70" fill="none" stroke="#0000ff" stroke-width="3.9" stroke-dasharray="8 7.4" stroke-dashoffset="1.2" stroke-linejoin="round"/>
<path d="M247.20,835.00 L248.20,835.00 L249.20,835.00 L250.20,835.00 L251.20,835.00 L252.20,835.00 L253.20,835.00 L254.20,835.00 L255.20,835.00 L256.20,835.00 L257.20,835.00 L258.20,835.00 L259.20,835.00 L260.20,835.00 L261.20,835.00 L262.20,835.00 L263.20,835.00 L264.20,835.00 L265.20,835.00 L266.20,835.00 L267.20,835.00 L268.20,835.00 L269.20,835.00 L270.20,835.00 L271.20,835.00 L272.20,835.00 L273.20,835.00 L274.20,835.00 L275.20,835.00 L276.20,835.00 L277.20,835.00 L278.20,835.00 L279.20,835.00 L280.20,835.00 L281.20,835.00 L282.20,835.00 L283.20,835.00 L284.20,835.00 L285.20,835.00 L286.20,835.00 L287.20,835.00 L288.20,835.00 L289.20,835.00 L290.20,835.00 L291.20,835.00 L292.20,835.00 L293.20,835.00 L294.20,835.00 L295.20,835.00 L296.20,835.00 L297.20,835.00 L298.20,835.00 L299.20,835.00 L300.20,835.00 L301.20,835.00 L302.20,835.00 L303.20,835.00 L304.20,835.00 L305.20,835.00 L306.20,835.00 L307.20,835.00 L308.20,835.00 L309.20,835.00 L310.20,835.00 L311.20,835.00 L312.20,835.00 L313.20,835.00 L314.20,835.00 L315.20,835.00 L316.20,835.00 L317.20,835.00 L318.20,835.00 L319.20,835.00 L320.20,835.00 L321.20,835.00 L322.20,835.00 L323.20,835.00 L324.20,835.00 L325.20,835.00 L326.20,835.00 L327.20,835.00 L328.20,835.00 L329.20,835.00 L330.20,835.00 L331.20,835.00 L332.20,835.00 L333.20,835.00 L334.20,835.00 L335.20,835.00 L336.20,835.00 L337.20,835.00 L338.20,835.00 L339.20,835.00 L340.20,835.00 L341.20,835.00 L342.20,835.00 L343.20,835.00 L344.20,835.00 L345.20,835.00 L346.20,835.00 L347.20,835.00 L348.20,835.00 L349.20,835.00 L350.20,835.00 L351.20,835.00 L352.20,835.00 L353.20,835.00 L354.20,835.00 L355.20,835.00 L356.20,835.00 L357.20,835.00 L358.20,835.00 L359.20,835.00 L360.20,835.00 L361.20,835.00 L362.20,835.00 L363.20,835.00 L364.20,835.00 L365.20,835.00 L366.20,835.00 L367.20,835.00 L368.20,835.00 L369.20,835.00 L370.20,835.00 L371.20,835.00 L372.20,835.00 L373.20,835.00 L374.20,835.00 L375.20,835.00 L376.20,835.00 L377.20,835.00 L378.20,835.00 L379.20,835.00 L380.20,835.00 L381.20,835.00 L382.20,835.00 L383.20,835.00 L384.20,835.00 L385.20,835.00 L386.20,835.00 L387.20,835.00 L388.20,835.00 L389.20,835.00 L390.20,835.00 L391.20,835.00 L392.20,835.00 L393.20,835.00 L394.20,835.00 L395.20,835.00 L396.20,835.00 L397.20,835.00 L398.20,835.00 L399.20,835.00 L400.20,835.00 L401.20,835.00 L402.20,835.00 L403.20,835.00 L404.20,835.00 L405.20,835.00 L406.20,835.00 L407.20,835.00 L408.20,835.00 L409.20,835.00 L410.20,835.00 L411.20,835.00 L412.20,835.00 L413.20,835.00 L414.20,835.00 L415.20,835.00 L416.20,835.00 L417.20,835.00 L418.20,835.00 L419.20,835.00 L420.20,835.00 L421.20,835.00 L422.20,835.00 L423.20,835.00 L424.20,835.00 L425.20,835.00 L426.20,835.00 L427.20,835.00 L428.20,835.00 L429.20,835.00 L430.20,835.00 L431.20,835.00 L432.20,835.00 L433.20,835.00 L434.20,835.00 L435.20,835.00 L436.20,835.00 L437.20,835.00 L438.20,835.00 L439.20,835.00 L440.20,835.00 L441.20,835.00 L442.20,835.00 L443.20,835.00 L444.20,835.00 L445.20,835.00 L446.20,835.00 L447.20,835.00 L448.20,835.00 L449.20,835.00 L450.20,835.00 L451.20,835.00 L452.20,835.00 L453.20,835.00 L454.20,835.00 L455.20,835.00 L456.20,835.00 L457.20,835.00 L458.20,835.00 L459.20,835.00 L460.20,835.00 L461.20,835.00 L462.20,835.00 L463.20,835.00 L464.20,835.00 L465.20,835.00 L466.20,835.00 L467.20,835.00 L468.20,835.00 L469.20,835.00 L470.20,835.00 L471.20,835.00 L472.20,835.00 L473.20,835.00 L474.20,835.00 L475.20,835.00 L476.20,835.00 L477.20,835.00 L478.20,835.00 L479.20,835.00 L480.20,835.00 L481.20,835.00 L482.20,835.00 L483.20,835.00 L484.20,835.00 L485.20,835.00 L486.20,835.00 L487.20,835.00 L488.20,835.00 L489.20,835.00 L490.20,835.00 L491.20,835.00 L492.20,835.00 L493.20,835.00 L494.20,835.00 L495.20,835.00 L496.20,835.00 L497.20,835.00 L498.20,835.00 L499.20,835.00 L500.20,835.00 L501.20,835.00 L502.20,835.00 L503.20,835.00 L504.20,835.00 L505.20,835.00 L506.20,835.00 L507.20,835.00 L508.20,835.00 L509.20,835.00 L510.20,835.00 L511.20,835.00 L512.20,835.00 L513.20,835.00 L514.20,835.00 L515.20,835.00 L516.20,835.00 L517.20,835.00 L518.20,835.00 L519.20,835.00 L520.20,835.00 L521.20,835.00 L522.20,835.00 L523.20,835.00 L524.20,835.00 L525.20,835.00 L526.20,835.00 L527.20,835.00 L528.20,835.00 L529.20,835.00 L530.20,835.00 L531.20,835.00 L532.20,835.00 L533.20,835.00 L534.20,835.00 L535.20,835.00 L536.20,835.00 L537.20,835.00 L538.20,835.00 L539.20,835.00 L540.20,835.00 L541.20,835.00 L542.20,835.00 L543.20,835.00 L544.20,835.00 L545.20,835.00 L546.20,835.00 L547.20,835.00 L548.20,835.00 L549.20,835.00 L550.20,835.00 L551.20,835.00 L552.20,835.00 L553.20,835.00 L554.20,835.00 L555.20,835.00 L556.20,835.00 L557.20,835.00 L558.20,835.00 L559.20,835.00 L560.20,835.00 L561.20,835.00 L562.20,835.00 L563.20,835.00 L564.20,835.00 L565.20,835.00 L566.20,835.00 L567.20,835.00 L568.20,835.00 L569.20,835.00 L570.20,835.00 L571.20,835.00 L572.20,835.00 L573.20,835.00 L574.20,835.00 L575.20,835.00 L576.20,835.00 L577.20,835.00 L578.20,835.00 L579.20,835.00 L580.20,835.00 L581.20,835.00 L582.20,835.00 L583.20,835.00 L584.20,835.00 L585.20,835.00 L586.20,835.00 L587.20,835.00 L588.20,835.00 L589.20,835.00 L590.20,835.00 L591.20,835.00 L592.20,835.00 L593.20,835.00 L594.20,835.00 L595.20,835.00 L596.20,835.00 L597.20,835.00 L598.20,835.00 L599.20,835.00 L600.20,835.00 L601.20,835.00 L602.20,835.00 L603.20,835.00 L604.20,835.00 L605.20,835.00 L606.20,835.00 L607.20,835.00 L608.20,835.00 L609.20,835.00 L610.20,835.00 L611.20,835.00 L612.20,835.00 L613.20,835.00 L614.20,835.00 L615.20,835.00 L616.20,835.00 L617.20,835.00 L618.20,835.00 L619.20,835.00 L620.20,835.00 L621.20,835.00 L622.20,835.00 L623.20,835.00 L624.20,835.00 L625.20,835.00 L626.20,835.00 L627.20,835.00 L628.20,835.00 L629.20,835.00 L630.20,835.00 L631.20,835.00 L632.20,835.00 L633.20,835.00 L634.20,835.00 L635.20,835.00 L636.20,835.00 L637.20,835.00 L638.20,835.00 L639.20,835.00 L640.20,835.00 L641.20,835.00 L642.20,835.00 L643.20,835.00 L644.20,835.00 L645.20,835.00 L646.20,835.00 L647.20,835.00 L648.20,835.00 L649.20,835.00 L650.20,835.00 L651.20,835.00 L652.20,835.00 L653.20,835.00 L654.20,835.00 L655.20,835.00 L656.20,835.00 L657.20,835.00 L658.20,835.00 L659.20,835.00 L660.20,835.00 L661.20,835.00 L662.20,835.00 L663.20,835.00 L664.20,835.00 L665.20,835.00 L666.20,835.00 L667.20,835.00 L668.20,835.00 L669.20,835.00 L670.20,835.00 L671.20,835.00 L672.20,835.00 L673.20,835.00 L674.20,835.00 L675.20,835.00 L676.20,835.00 L677.20,835.00 L678.20,835.00 L679.20,835.00 L680.20,835.00 L681.20,835.00 L682.20,835.00 L683.20,835.00 L684.20,835.00 L685.20,835.00 L686.20,835.00 L687.20,835.00 L688.20,835.00 L689.20,835.00 L690.20,835.00 L691.20,835.00 L692.20,835.00 L693.20,835.00 L694.20,835.00 L695.20,835.00 L696.20,835.00 L697.20,835.00 L698.20,835.00 L699.20,835.00 L700.20,835.00 L701.20,835.00 L702.20,835.00 L703.20,835.00 L704.20,835.00 L705.20,835.00 L706.20,835.00 L707.20,835.00 L708.20,835.00 L709.20,835.00 L710.20,835.00 L711.20,835.00 L712.20,835.00 L713.20,835.00 L714.20,835.00 L715.20,835.00 L716.20,835.00 L717.20,835.00 L718.20,835.00 L719.20,835.00 L720.20,835.00 L721.20,835.00 L722.20,835.00 L723.20,835.00 L724.20,835.00 L725.20,835.00 L726.20,835.00 L727.20,835.00 L728.20,835.00 L729.20,835.00 L730.20,835.00 L731.20,835.00 L732.20,835.00 L733.20,835.00 L734.20,835.00 L735.20,835.00 L736.20,835.00 L737.20,835.00 L738.20,835.00 L739.20,835.00 L740.20,835.00 L741.20,835.00 L742.20,835.00 L743.20,835.00 L744.20,835.00 L745.20,835.00 L746.20,835.00 L747.20,835.00 L748.20,835.00 L749.20,835.00 L750.20,835.00 L751.20,835.00 L752.20,835.00 L753.20,835.00 L754.20,835.00 L755.20,835.00 L756.20,835.00 L757.20,835.00 L758.20,835.00 L759.20,835.00 L760.20,835.00 L761.20,835.00 L762.20,835.00 L763.20,835.00 L764.20,835.00 L765.20,835.00 L766.20,835.00 L767.20,834.47 L768.20,831.84 L769.20,829.21 L770.20,826.58 L771.20,823.95 L772.20,821.31 L773.20,818.68 L774.20,816.05 L775.20,813.42 L776.20,810.79 L777.20,808.15 L778.20,805.52 L779.20,802.89 L780.20,800.26 L781.20,797.62 L782.20,794.99 L783.20,792.36 L784.20,789.73 L785.20,787.10 L786.20,784.46 L787.20,781.83 L788.20,779.20 L789.20,776.57 L790.20,773.94 L791.20,771.30 L792.20,768.67 L793.20,766.04 L794.20,763.41 L795.20,760.78 L796.20,758.14 L797.20,755.51 L798.20,752.88 L799.20,750.25 L800.20,747.62 L801.20,744.98 L802.20,742.35 L803.20,739.72 L804.20,737.09 L805.20,734.46 L806.20,731.82 L807.20,729.19 L808.20,726.56 L809.20,723.93 L810.20,721.30 L811.20,718.66 L812.20,716.03 L813.20,713.40 L814.20,710.77 L815.20,708.13 L816.20,705.50 L817.20,702.87 L818.20,700.24 L819.20,697.61 L820.20,694.97 L821.20,692.34 L822.20,689.71 L823.20,687.08 L824.20,684.45 L825.20,681.81 L826.20,679.18 L827.20,676.55 L828.20,673.92 L829.20,671.29 L830.20,668.65 L831.20,666.02 L832.20,663.39 L833.20,660.76 L834.20,658.13 L835.20,655.49 L836.20,652.86 L837.20,650.23 L838.20,647.60 L839.20,644.97 L840.20,642.33 L841.20,639.70 L842.20,637.07 L843.20,634.44 L844.20,631.81 L845.20,629.17 L846.20,626.54 L847.20,623.91 L848.20,621.28 L849.20,618.65 L850.20,616.01 L851.20,613.38 L852.20,610.75 L853.20,608.12 L854.20,605.48 L855.20,602.85 L856.20,600.22 L857.20,597.59 L858.20,594.96 L859.20,592.32 L860.20,589.69 L861.20,587.06 L862.20,584.43 L863.20,581.80 L864.20,579.16 L865.20,576.53 L866.20,573.90 L867.20,571.27 L868.20,568.64 L869.20,566.00 L870.20,563.37 L871.20,560.74 L872.20,558.11 L873.20,555.48 L874.20,552.84 L875.20,550.21 L876.20,547.58 L877.20,544.95 L878.20,542.32 L879.20,539.68 L880.20,537.05 L881.20,534.42 L882.20,531.79 L883.20,529.16 L884.20,526.52 L885.20,523.89 L886.20,521.26 L887.20,518.63 L888.20,515.99 L889.20,513.36 L890.20,510.73 L891.20,508.10 L892.20,505.47 L893.20,502.83 L894.20,500.20 L895.20,497.57 L896.20,494.94 L897.20,492.31 L898.20,489.67 L899.20,487.04 L900.20,484.41 L901.20,481.78 L902.20,479.15 L903.20,476.51 L904.20,473.88 L905.20,471.25 L906.20,468.62 L907.20,465.99 L908.20,463.35 L909.20,460.72 L910.20,458.09 L911.20,455.46 L912.20,452.83 L913.20,450.19 L914.20,447.56 L915.20,444.93 L916.20,442.30 L917.20,439.67 L918.20,437.03 L919.20,434.40 L920.20,431.77 L921.20,429.14 L922.20,426.51 L923.20,423.87 L924.20,421.24 L925.20,418.61 L926.20,415.98 L927.20,413.34 L928.20,410.71 L929.20,408.08 L930.20,405.45 L931.20,402.82 L932.20,400.18 L933.20,397.55 L934.20,394.92 L935.20,392.29 L936.20,389.66 L937.20,387.02 L938.20,384.39 L939.20,381.76 L940.20,379.13 L941.20,376.50 L942.20,373.86 L943.20,371.23 L944.20,368.60 L945.20,365.97 L946.20,363.34 L947.20,360.70 L948.20,358.07 L949.20,355.44 L950.20,352.81 L951.20,350.18 L952.20,347.54 L953.20,344.91 L954.20,342.28 L954.80,340.70" fill="none" stroke="#ff0000" stroke-width="3.9" stroke-dasharray="8 7.4" stroke-dashoffset="0" stroke-linejoin="round"/>
<path d="M245.5,340.7 L954.8,340.7 L1038.0,122.0" fill="none" stroke="#808080" stroke-width="3.7" stroke-linejoin="miter"/>
<path d="M955.4,339.09999999999997 L1038.0,122.0" fill="none" stroke="#808080" stroke-width="4.3"/>
<rect x="256.6" y="100.3" width="307.9" height="394.3" fill="#ffffff" fill-opacity="0.88" stroke="#000" stroke-width="2.0"/>
<rect x="275.60" y="140.55" width="36.70" height="3.50" fill="#800080"/>
<text transform="translate(333.86,158.00) scale(1.0017,1)" font-size="39.8" font-style="italic" fill="#000">B</text>
<text transform="translate(359.64,164.70) scale(1.0674,1)" font-size="27.0" font-style="italic" fill="#000">l</text>
<rect x="381.50" y="142.40" width="18.50" height="3.10" fill="#000"/>
<rect x="381.50" y="150.60" width="18.50" height="3.00" fill="#000"/>
<path d="M429.00,157.90 L429.00,130.30 L426.60,130.30 Q422.88,135.82 418.40,137.20 L418.40,140.40 Q422.19,138.75 425.30,136.29 L425.30,157.90 Z" fill="#000"/>
<text transform="translate(435.43,157.90) scale(0.9485,1)" font-size="39.7" fill="#000">0</text>
<rect x="458.10" y="133.60" width="12.80" height="2.30" fill="#000"/>
<text transform="translate(471.65,142.20) scale(1.0137,1)" font-size="28.4" fill="#000">9</text>
<text transform="translate(501.20,157.90) scale(1.0068,1)" font-size="39.7" fill="#000">G</text>
<rect x="275.60" y="217.53" width="36.70" height="3.50" fill="#0000ff"/>
<text transform="translate(333.86,234.98) scale(1.0017,1)" font-size="39.8" font-style="italic" fill="#000">B</text>
<text transform="translate(359.64,241.68) scale(1.0674,1)" font-size="27.0" font-style="italic" fill="#000">l</text>
<rect x="381.50" y="219.38" width="18.50" height="3.10" fill="#000"/>
<rect x="381.50" y="227.58" width="18.50" height="3.00" fill="#000"/>
<path d="M429.00,234.88 L429.00,207.28 L426.60,207.28 Q422.88,212.80 418.40,214.18 L418.40,217.38 Q422.19,215.73 425.30,213.27 L425.30,234.88 Z" fill="#000"/>
<text transform="translate(435.43,234.88) scale(0.9485,1)" font-size="39.7" fill="#000">0</text>
<rect x="458.10" y="210.58" width="12.80" height="2.30" fill="#000"/>
<path d="M482.20,219.18 L482.20,199.08 L480.38,199.08 Q477.65,203.10 474.40,204.11 L474.40,206.44 Q477.15,205.29 479.40,203.44 L479.40,219.18 Z" fill="#000"/>
<text transform="translate(487.02,219.18) scale(0.9724,1)" font-size="28.4" fill="#000">0</text>
<text transform="translate(515.98,234.98) scale(1.0184,1)" font-size="39.7" fill="#000">G</text>
<rect x="275.60" y="294.51" width="36.70" height="3.50" fill="#00ff00"/>
<text transform="translate(333.86,311.96) scale(1.0017,1)" font-size="39.8" font-style="italic" fill="#000">B</text>
<text transform="translate(359.64,318.66) scale(1.0674,1)" font-size="27.0" font-style="italic" fill="#000">l</text>
<rect x="381.50" y="296.36" width="18.50" height="3.10" fill="#000"/>
<rect x="381.50" y="304.56" width="18.50" height="3.00" fill="#000"/>
<path d="M429.00,311.86 L429.00,284.26 L426.60,284.26 Q422.88,289.78 418.40,291.16 L418.40,294.36 Q422.19,292.71 425.30,290.25 L425.30,311.86 Z" fill="#000"/>
<text transform="translate(435.43,311.86) scale(0.9485,1)" font-size="39.7" fill="#000">0</text>
<rect x="458.10" y="287.56" width="12.80" height="2.30" fill="#000"/>
<path d="M482.20,296.16 L482.20,276.06 L480.38,276.06 Q477.65,280.08 474.40,281.08 L474.40,283.42 Q477.15,282.27 479.40,280.42 L479.40,296.16 Z" fill="#000"/>
<path d="M497.90,296.16 L497.90,276.06 L496.08,276.06 Q493.35,280.08 490.10,281.08 L490.10,283.42 Q492.85,282.27 495.10,280.42 L495.10,296.16 Z" fill="#000"/>
<text transform="translate(515.98,311.96) scale(1.0184,1)" font-size="39.7" fill="#000">G</text>
<rect x="275.60" y="371.49" width="36.70" height="3.50" fill="#ff8000"/>
<text transform="translate(333.86,388.94) scale(1.0017,1)" font-size="39.8" font-style="italic" fill="#000">B</text>
<text transform="translate(359.64,395.64) scale(1.0674,1)" font-size="27.0" font-style="italic" fill="#000">l</text>
<rect x="381.50" y="373.34" width="18.50" height="3.10" fill="#000"/>
<rect x="381.50" y="381.54" width="18.50" height="3.00" fill="#000"/>
<path d="M429.00,388.84 L429.00,361.24 L426.60,361.24 Q422.88,366.76 418.40,368.14 L418.40,371.34 Q422.19,369.69 425.30,367.23 L425.30,388.84 Z" fill="#000"/>
<text transform="translate(435.43,388.84) scale(0.9485,1)" font-size="39.7" fill="#000">0</text>
<rect x="458.10" y="364.54" width="12.80" height="2.30" fill="#000"/>
<path d="M482.20,373.14 L482.20,353.04 L480.38,353.04 Q477.65,357.06 474.40,358.06 L474.40,360.40 Q477.15,359.25 479.40,357.40 L479.40,373.14 Z" fill="#000"/>
<text transform="translate(486.65,373.14) scale(1.0193,1)" font-size="28.4" fill="#000">2</text>
<text transform="translate(515.98,388.94) scale(1.0184,1)" font-size="39.7" fill="#000">G</text>
<rect x="275.60" y="448.47" width="36.70" height="3.50" fill="#ff0000"/>
<text transform="translate(333.86,465.92) scale(1.0017,1)" font-size="39.8" font-style="italic" fill="#000">B</text>
<text transform="translate(359.64,472.62) scale(1.0674,1)" font-size="27.0" font-style="italic" fill="#000">l</text>
<rect x="381.50" y="450.32" width="18.50" height="3.10" fill="#000"/>
<rect x="381.50" y="458.52" width="18.50" height="3.00" fill="#000"/>
<path d="M429.00,465.82 L429.00,438.22 L426.60,438.22 Q422.88,443.74 418.40,445.12 L418.40,448.32 Q422.19,446.67 425.30,444.21 L425.30,465.82 Z" fill="#000"/>
<text transform="translate(435.43,465.82) scale(0.9485,1)" font-size="39.7" fill="#000">0</text>
<rect x="458.10" y="441.52" width="12.80" height="2.30" fill="#000"/>
<path d="M482.20,450.12 L482.20,430.02 L480.38,430.02 Q477.65,434.04 474.40,435.05 L474.40,437.38 Q477.15,436.23 479.40,434.38 L479.40,450.12 Z" fill="#000"/>
<text transform="translate(487.04,450.12) scale(0.9806,1)" font-size="28.4" fill="#000">3</text>
<text transform="translate(515.98,465.92) scale(1.0184,1)" font-size="39.7" fill="#000">G</text>
<rect x="283.20" y="77.10" width="3.80" height="7.80" fill="#666666"/>
<rect x="283.20" y="893.40" width="3.80" height="7.80" fill="#666666"/>
<rect x="358.48" y="77.10" width="3.80" height="7.80" fill="#666666"/>
<rect x="358.48" y="893.40" width="3.80" height="7.80" fill="#666666"/>
<rect x="433.76" y="77.10" width="3.80" height="7.80" fill="#666666"/>
<rect x="433.76" y="893.40" width="3.80" height="7.80" fill="#666666"/>
<rect x="509.04" y="77.10" width="3.80" height="7.80" fill="#666666"/>
<rect x="509.04" y="893.40" width="3.80" height="7.80" fill="#666666"/>
<rect x="584.32" y="77.10" width="3.80" height="7.80" fill="#666666"/>
<rect x="584.32" y="893.40" width="3.80" height="7.80" fill="#666666"/>
<rect x="659.60" y="77.10" width="3.80" height="7.80" fill="#666666"/>
<rect x="659.60" y="893.40" width="3.80" height="7.80" fill="#666666"/>
<rect x="734.88" y="77.10" width="3.80" height="7.80" fill="#666666"/>
<rect x="734.88" y="893.40" width="3.80" height="7.80" fill="#666666"/>
<rect x="810.16" y="77.10" width="3.80" height="7.80" fill="#666666"/>
<rect x="810.16" y="893.40" width="3.80" height="7.80" fill="#666666"/>
<rect x="885.44" y="77.10" width="3.80" height="7.80" fill="#666666"/>
<rect x="885.44" y="893.40" width="3.80" height="7.80" fill="#666666"/>
<rect x="960.72" y="77.10" width="3.80" height="7.80" fill="#666666"/>
<rect x="960.72" y="893.40" width="3.80" height="7.80" fill="#666666"/>
<rect x="1036.00" y="77.10" width="3.80" height="7.80" fill="#666666"/>
<rect x="1036.00" y="893.40" width="3.80" height="7.80" fill="#666666"/>
<rect x="231.00" y="882.52" width="7.80" height="3.80" fill="#666666"/>
<rect x="1046.60" y="882.52" width="7.80" height="3.80" fill="#666666"/>
<rect x="231.00" y="783.68" width="7.80" height="3.80" fill="#666666"/>
<rect x="1046.60" y="783.68" width="7.80" height="3.80" fill="#666666"/>
<rect x="231.00" y="684.84" width="7.80" height="3.80" fill="#666666"/>
<rect x="1046.60" y="684.84" width="7.80" height="3.80" fill="#666666"/>
<rect x="231.00" y="586.00" width="7.80" height="3.80" fill="#666666"/>
<rect x="1046.60" y="586.00" width="7.80" height="3.80" fill="#666666"/>
<rect x="231.00" y="487.16" width="7.80" height="3.80" fill="#666666"/>
<rect x="1046.60" y="487.16" width="7.80" height="3.80" fill="#666666"/>
<rect x="231.00" y="388.32" width="7.80" height="3.80" fill="#666666"/>
<rect x="1046.60" y="388.32" width="7.80" height="3.80" fill="#666666"/>
<rect x="231.00" y="289.48" width="7.80" height="3.80" fill="#666666"/>
<rect x="1046.60" y="289.48" width="7.80" height="3.80" fill="#666666"/>
<rect x="231.00" y="190.64" width="7.80" height="3.80" fill="#666666"/>
<rect x="1046.60" y="190.64" width="7.80" height="3.80" fill="#666666"/>
<rect x="231.00" y="91.80" width="7.80" height="3.80" fill="#666666"/>
<rect x="1046.60" y="91.80" width="7.80" height="3.80" fill="#666666"/>
<rect x="231.0" y="77.1" width="823.4000000000001" height="824.1" fill="none" stroke="#666666" stroke-width="3.7"/>
<path d="M109.00,904.94 L109.00,864.34 L104.20,864.34 L92.70,872.01 L92.70,876.93 L104.20,869.25 L104.20,904.94 Z" fill="#000"/>
<text transform="translate(116.48,904.94) scale(1.0865,1)" font-size="59.5" fill="#000">0</text>
<rect x="154.80" y="868.34" width="24.00" height="2.90" fill="#000"/>
<text transform="translate(180.31,882.14) scale(1.0296,1)" font-size="42.6" fill="#000">2</text>
<path d="M216.90,882.14 L216.90,852.74 L213.30,852.74 L205.10,858.30 L205.10,861.85 L213.30,856.30 L213.30,882.14 Z" fill="#000"/>
<path d="M103.00,806.01 L103.00,765.41 L98.20,765.41 L86.70,773.08 L86.70,778.00 L98.20,770.32 L98.20,806.01 Z" fill="#000"/>
<text transform="translate(110.48,806.01) scale(1.0865,1)" font-size="59.5" fill="#000">0</text>
<rect x="148.80" y="769.41" width="24.00" height="2.90" fill="#000"/>
<text transform="translate(174.07,783.21) scale(1.0450,1)" font-size="42.6" fill="#000">2</text>
<text transform="translate(197.95,783.21) scale(1.0558,1)" font-size="42.6" fill="#000">0</text>
<path d="M109.00,707.08 L109.00,666.48 L104.20,666.48 L92.70,674.15 L92.70,679.07 L104.20,671.39 L104.20,707.08 Z" fill="#000"/>
<text transform="translate(116.48,707.08) scale(1.0865,1)" font-size="59.5" fill="#000">0</text>
<rect x="154.80" y="670.48" width="24.00" height="2.90" fill="#000"/>
<path d="M194.00,684.28 L194.00,654.88 L190.40,654.88 L182.20,660.44 L182.20,663.99 L190.40,658.44 L190.40,684.28 Z" fill="#000"/>
<text transform="translate(198.31,684.28) scale(1.0924,1)" font-size="42.6" fill="#000">9</text>
<path d="M109.00,608.15 L109.00,567.55 L104.20,567.55 L92.70,575.22 L92.70,580.14 L104.20,572.46 L104.20,608.15 Z" fill="#000"/>
<text transform="translate(116.48,608.15) scale(1.0865,1)" font-size="59.5" fill="#000">0</text>
<rect x="154.80" y="571.55" width="24.00" height="2.90" fill="#000"/>
<path d="M194.00,585.35 L194.00,555.95 L190.40,555.95 L182.20,561.51 L182.20,565.06 L190.40,559.51 L190.40,585.35 Z" fill="#000"/>
<text transform="translate(198.03,585.35) scale(1.0738,1)" font-size="42.6" fill="#000">8</text>
<path d="M111.20,509.22 L111.20,468.62 L106.40,468.62 L94.90,476.29 L94.90,481.21 L106.40,473.53 L106.40,509.22 Z" fill="#000"/>
<text transform="translate(118.68,509.22) scale(1.0865,1)" font-size="59.5" fill="#000">0</text>
<rect x="157.00" y="472.62" width="24.00" height="2.90" fill="#000"/>
<path d="M196.20,486.42 L196.20,457.02 L192.60,457.02 L184.40,462.58 L184.40,466.13 L192.60,460.58 L192.60,486.42 Z" fill="#000"/>
<text transform="translate(199.38,486.42) scale(1.0215,1)" font-size="42.6" fill="#000">7</text>
<path d="M109.00,410.29 L109.00,369.69 L104.20,369.69 L92.70,377.36 L92.70,382.28 L104.20,374.60 L104.20,410.29 Z" fill="#000"/>
<text transform="translate(116.48,410.29) scale(1.0865,1)" font-size="59.5" fill="#000">0</text>
<rect x="154.80" y="373.69" width="24.00" height="2.90" fill="#000"/>
<path d="M194.00,387.49 L194.00,358.09 L190.40,358.09 L182.20,363.65 L182.20,367.20 L190.40,361.65 L190.40,387.49 Z" fill="#000"/>
<text transform="translate(198.12,387.49) scale(1.0948,1)" font-size="42.6" fill="#000">6</text>
<path d="M109.00,311.36 L109.00,270.76 L104.20,270.76 L92.70,278.43 L92.70,283.35 L104.20,275.67 L104.20,311.36 Z" fill="#000"/>
<text transform="translate(116.48,311.36) scale(1.0865,1)" font-size="59.5" fill="#000">0</text>
<rect x="154.80" y="274.76" width="24.00" height="2.90" fill="#000"/>
<path d="M194.00,288.56 L194.00,259.16 L190.40,259.16 L182.20,264.72 L182.20,268.27 L190.40,262.72 L190.40,288.56 Z" fill="#000"/>
<text transform="translate(198.21,288.56) scale(1.0499,1)" font-size="42.6" fill="#000">5</text>
<path d="M109.00,212.43 L109.00,171.83 L104.20,171.83 L92.70,179.50 L92.70,184.42 L104.20,176.74 L104.20,212.43 Z" fill="#000"/>
<text transform="translate(116.48,212.43) scale(1.0865,1)" font-size="59.5" fill="#000">0</text>
<rect x="154.80" y="175.83" width="24.00" height="2.90" fill="#000"/>
<path d="M194.00,189.63 L194.00,160.23 L190.40,160.23 L182.20,165.79 L182.20,169.34 L190.40,163.79 L190.40,189.63 Z" fill="#000"/>
<text transform="translate(198.16,189.63) scale(1.0619,1)" font-size="42.6" fill="#000">4</text>
<path d="M109.00,113.50 L109.00,72.90 L104.20,72.90 L92.70,80.57 L92.70,85.49 L104.20,77.81 L104.20,113.50 Z" fill="#000"/>
<text transform="translate(116.48,113.50) scale(1.0865,1)" font-size="59.5" fill="#000">0</text>
<rect x="154.80" y="76.90" width="24.00" height="2.90" fill="#000"/>
<path d="M194.00,90.70 L194.00,61.30 L190.40,61.30 L182.20,66.86 L182.20,70.41 L190.40,64.86 L190.40,90.70 Z" fill="#000"/>
<text transform="translate(198.44,90.70) scale(1.0251,1)" font-size="42.6" fill="#000">3</text>
<path d="M290.00,962.40 L290.00,921.80 L285.00,921.80 L274.10,929.47 L274.10,934.39 L285.00,926.71 L285.00,962.40 Z" fill="#000"/>
<path d="M410.10,962.40 L410.10,921.80 L405.30,921.80 L393.80,929.47 L393.80,934.39 L405.30,926.71 L405.30,962.40 Z" fill="#000"/>
<text transform="translate(417.58,962.40) scale(1.0865,1)" font-size="59.5" fill="#000">0</text>
<text transform="translate(453.59,938.90) scale(1.0340,1)" font-size="42.6" fill="#000">4</text>
<path d="M560.90,962.40 L560.90,921.80 L556.10,921.80 L544.60,929.47 L544.60,934.39 L556.10,926.71 L556.10,962.40 Z" fill="#000"/>
<text transform="translate(568.38,962.40) scale(1.0865,1)" font-size="59.5" fill="#000">0</text>
<text transform="translate(603.58,938.90) scale(1.0488,1)" font-size="42.6" fill="#000">8</text>
<path d="M703.10,962.40 L703.10,921.80 L698.30,921.80 L686.80,929.47 L686.80,934.39 L698.30,926.71 L698.30,962.40 Z" fill="#000"/>
<text transform="translate(710.58,962.40) scale(1.0865,1)" font-size="59.5" fill="#000">0</text>
<path d="M760.00,938.90 L760.00,909.50 L756.40,909.50 L748.20,915.06 L748.20,918.61 L756.40,913.06 L756.40,938.90 Z" fill="#000"/>
<text transform="translate(762.47,938.90) scale(1.0450,1)" font-size="42.6" fill="#000">2</text>
<path d="M853.20,962.40 L853.20,921.80 L848.40,921.80 L836.90,929.47 L836.90,934.39 L848.40,926.71 L848.40,962.40 Z" fill="#000"/>
<text transform="translate(860.68,962.40) scale(1.0865,1)" font-size="59.5" fill="#000">0</text>
<path d="M909.70,938.90 L909.70,909.50 L906.10,909.50 L897.90,915.06 L897.90,918.61 L906.10,913.06 L906.10,938.90 Z" fill="#000"/>
<text transform="translate(913.12,938.90) scale(1.0948,1)" font-size="42.6" fill="#000">6</text>
<path d="M1000.60,962.40 L1000.60,921.80 L995.80,921.80 L984.30,929.47 L984.30,934.39 L995.80,926.71 L995.80,962.40 Z" fill="#000"/>
<text transform="translate(1008.08,962.40) scale(1.0865,1)" font-size="59.5" fill="#000">0</text>
<text transform="translate(1043.17,938.90) scale(1.0450,1)" font-size="42.6" fill="#000">2</text>
<text transform="translate(1066.91,938.90) scale(1.0166,1)" font-size="42.6" fill="#000">0</text>
<text transform="translate(536.07,1045.60) scale(1.0097,1)" font-size="57.5" fill="#000">m</text>
<rect x="602.00" y="1002.10" width="5.20" height="53.50" fill="#000"/>
<rect x="602.00" y="1002.10" width="13.60" height="2.00" fill="#000"/>
<rect x="602.00" y="1053.60" width="13.60" height="2.00" fill="#000"/>
<path d="M607.20,1004.10 h1.6 q-1.6,0 -1.6,1.6 Z M607.20,1053.60 h1.6 q-1.6,0 -1.6,-1.6 Z" fill="#000"/>
<text transform="translate(617.12,1045.60) scale(0.9343,1)" font-size="59.5" fill="#000">G</text>
<text transform="translate(659.55,1045.60) scale(0.9732,1)" font-size="57.5" fill="#000">e</text>
<text transform="translate(689.99,1045.60) scale(0.8952,1)" font-size="59.5" fill="#000">V</text>
<rect x="737.80" y="1002.10" width="5.20" height="53.50" fill="#000"/>
<rect x="729.40" y="1002.10" width="13.60" height="2.00" fill="#000"/>
<rect x="729.40" y="1053.60" width="13.60" height="2.00" fill="#000"/>
<path d="M737.80,1004.10 h-1.6 q1.6,0 1.6,1.6 Z M737.80,1053.60 h-1.6 q1.6,0 1.6,-1.6 Z" fill="#000"/>
<g transform="translate(59.9,711.1) rotate(-90)">
<text transform="translate(-2.63,0.00) scale(0.8819,1)" font-size="59.5" font-style="italic" fill="#000">F</text>
<text transform="translate(28.74,10.80) scale(0.9965,1)" font-size="42.3" fill="#000">M</text>
<text transform="translate(63.85,10.80) scale(0.9058,1)" font-size="42.3" fill="#000">W</text>
<rect x="109.40" y="-43.50" width="5.20" height="53.50" fill="#000"/>
<rect x="109.40" y="-43.50" width="13.60" height="2.00" fill="#000"/>
<rect x="109.40" y="8.00" width="13.60" height="2.00" fill="#000"/>
<path d="M114.60,-41.50 h1.6 q-1.6,0 -1.6,1.6 Z M114.60,8.00 h1.6 q-1.6,0 -1.6,-1.6 Z" fill="#000"/>
<text transform="translate(124.57,0.00) scale(1.0467,1)" font-size="57.5" fill="#000">c</text>
<text transform="translate(153.74,0.00) scale(1.0172,1)" font-size="57.5" fill="#000">m</text>
<rect x="205.20" y="-40.10" width="23.40" height="2.90" fill="#000"/>
<text transform="translate(230.41,-26.30) scale(1.0296,1)" font-size="42.6" fill="#000">2</text>
<text transform="translate(255.57,0.00) scale(0.9533,1)" font-size="57.5" fill="#000">s</text>
<text transform="translate(282.82,0.00) scale(0.9700,1)" font-size="57.5" fill="#000">r</text>
<rect x="305.20" y="-40.10" width="23.60" height="2.90" fill="#000"/>
<path d="M344.20,-26.30 L344.20,-55.70 L340.40,-55.70 L333.10,-50.14 L333.10,-46.59 L340.40,-52.14 L340.40,-26.30 Z" fill="#000"/>
<text transform="translate(348.27,0.00) scale(1.0132,1)" font-size="57.5" fill="#000">s</text>
<rect x="380.20" y="-40.10" width="23.50" height="2.90" fill="#000"/>
<path d="M419.20,-26.30 L419.20,-55.70 L415.40,-55.70 L408.10,-50.14 L408.10,-46.59 L415.40,-52.14 L415.40,-26.30 Z" fill="#000"/>
<rect x="435.90" y="-43.50" width="5.20" height="53.50" fill="#000"/>
<rect x="427.50" y="-43.50" width="13.60" height="2.00" fill="#000"/>
<rect x="427.50" y="8.00" width="13.60" height="2.00" fill="#000"/>
<path d="M435.90,-41.50 h-1.6 q1.6,0 1.6,1.6 Z M435.90,8.00 h-1.6 q1.6,0 1.6,-1.6 Z" fill="#000"/>
</g>
</svg>
</body></html>
